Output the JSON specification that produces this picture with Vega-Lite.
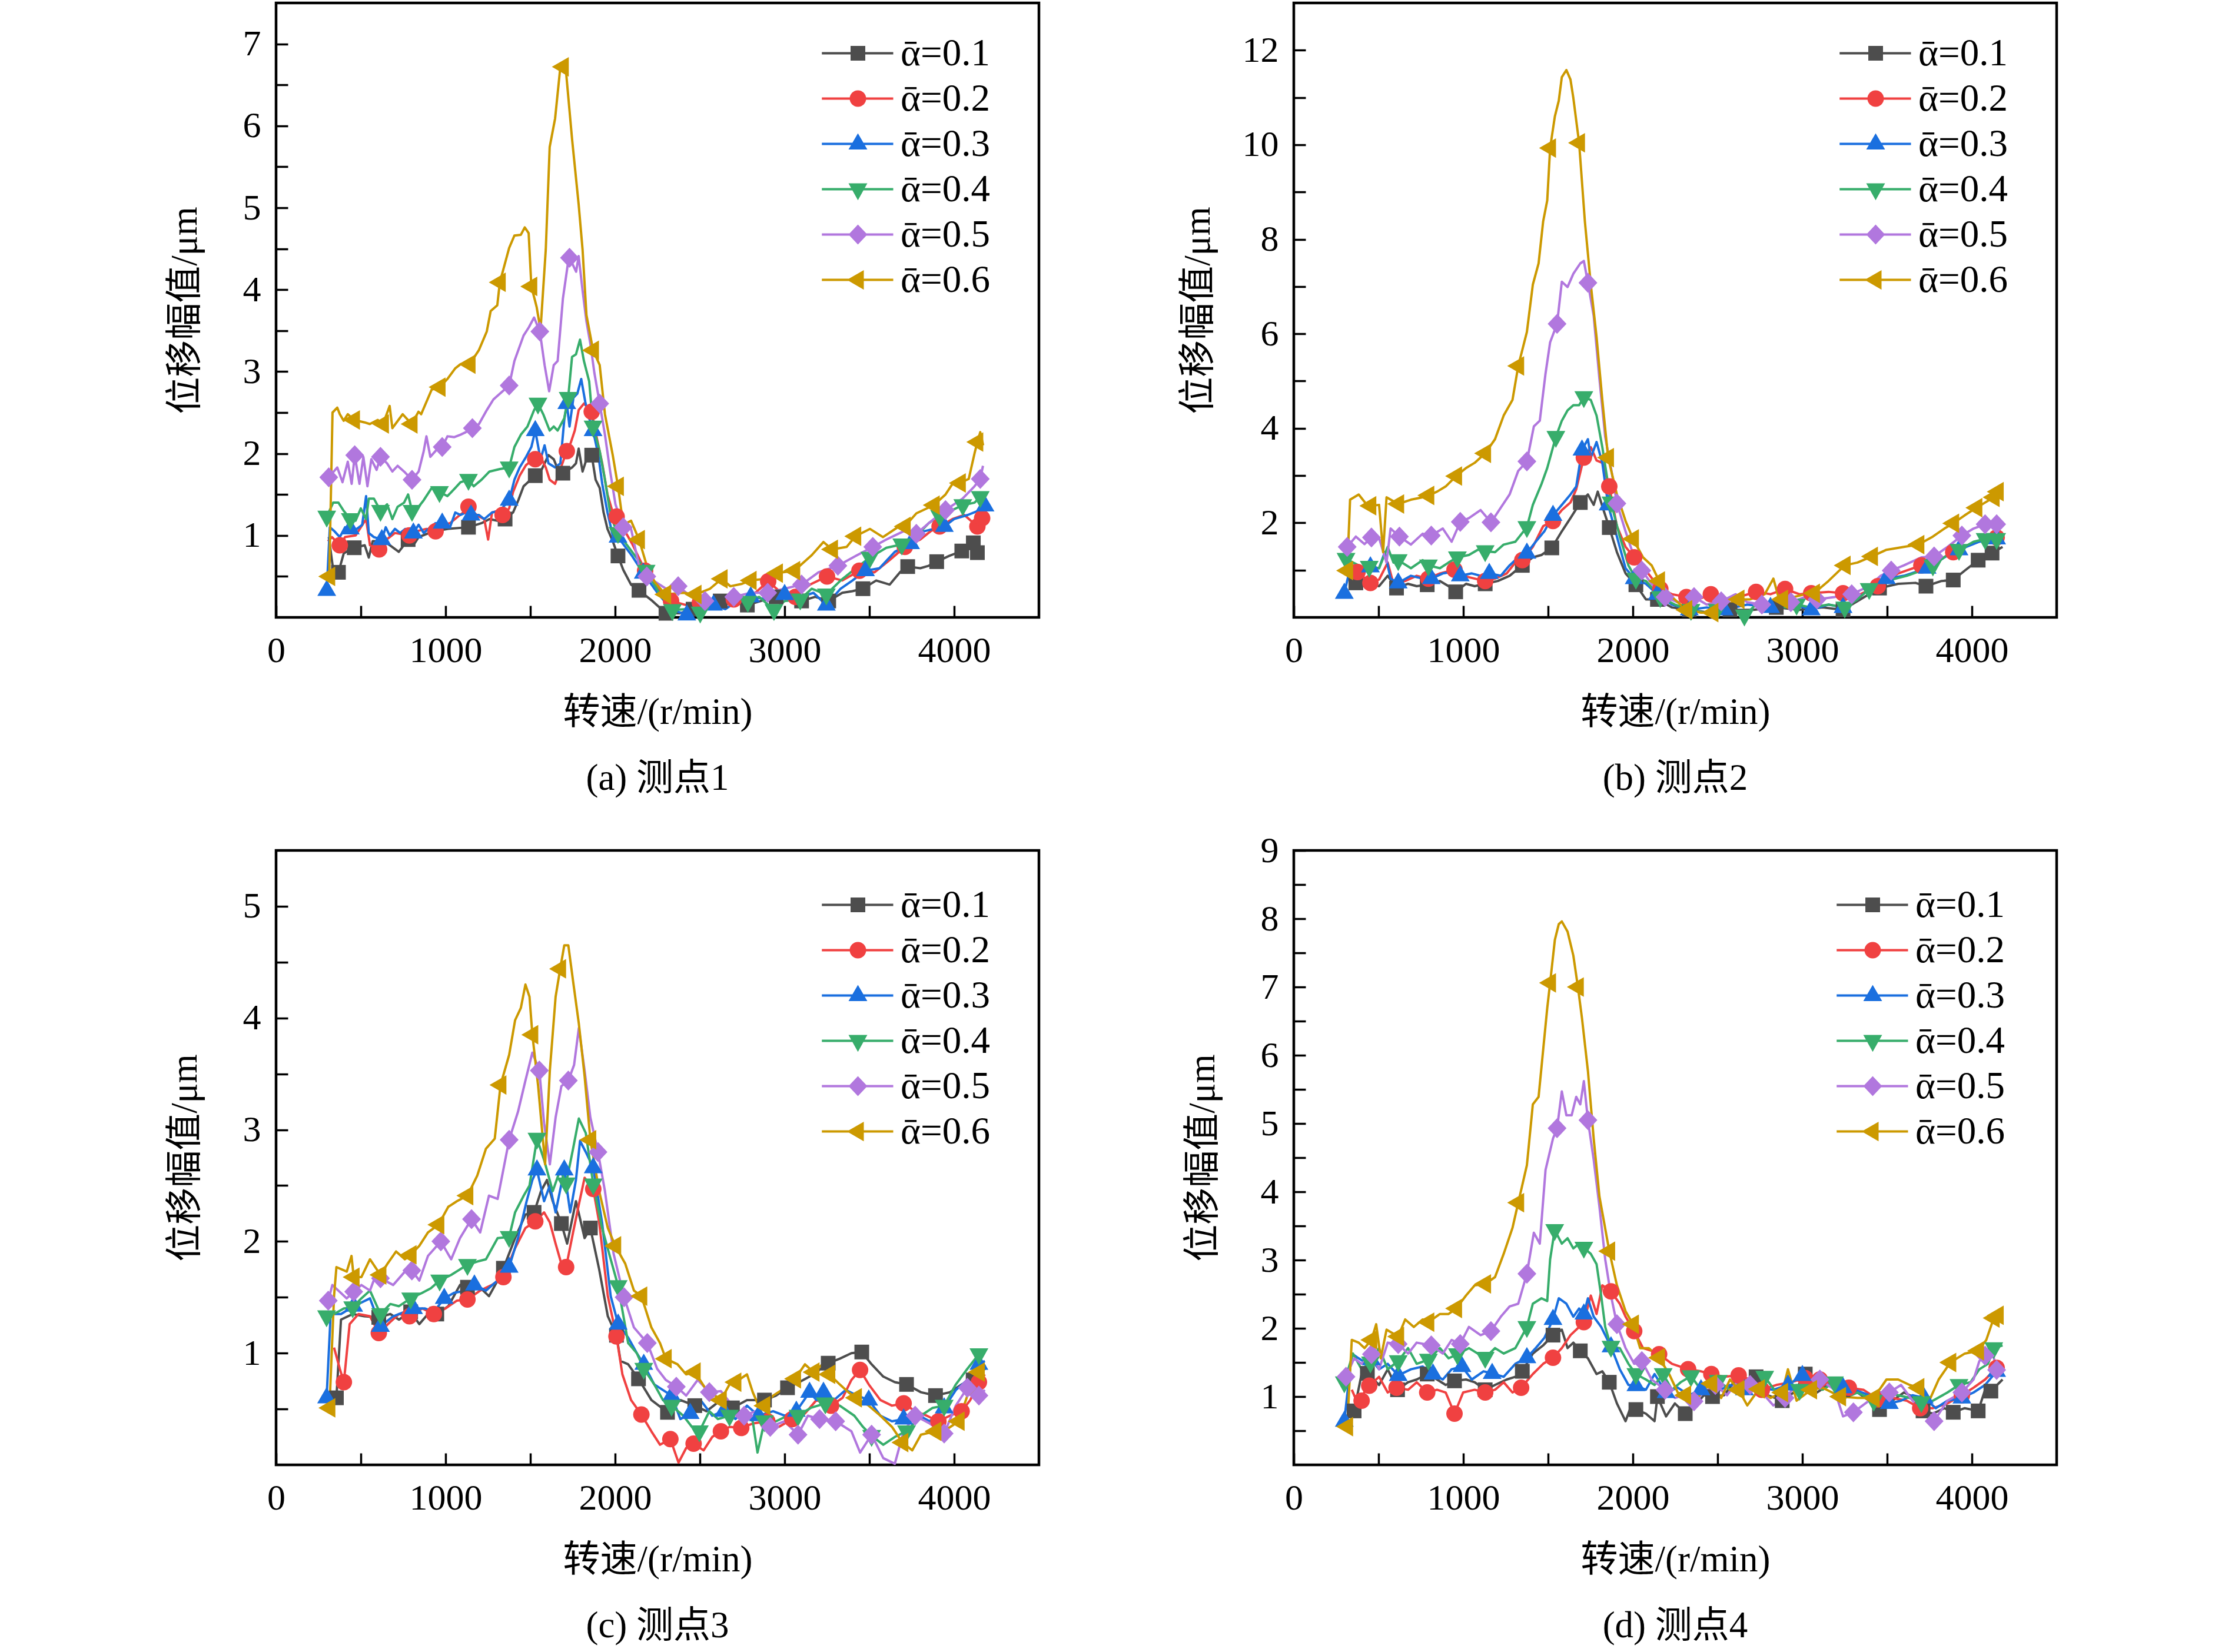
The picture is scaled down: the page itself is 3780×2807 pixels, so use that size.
{
"$schema": "https://vega.github.io/schema/vega-lite/v6.json",
"background": "white",
"padding": {"left": 280, "top": 2, "right": 10, "bottom": 10},
"config": {
  "view": {"stroke": "black", "strokeWidth": 4.5},
  "axis": {"grid": false, "domain": false, "tickColor": "black", "tickWidth": 3.5, "tickSize": -20, "labelFont": "Liberation Serif", "labelFontSize": 62, "labelColor": "black", "labelPadding": 46, "labelFlush": false, "labelOverlap": false, "titleFont": "Liberation Serif, Noto Sans CJK SC", "titleFontSize": 63, "titleFontWeight": "normal", "titleColor": "black"},
  "axisX": {"titlePadding": 43},
  "axisY": {"titlePadding": 66},
  "title": {"orient": "bottom", "font": "Liberation Serif, Noto Sans CJK SC", "fontSize": 63, "fontWeight": "normal", "color": "black", "offset": 50, "anchor": "middle"},
  "legend": {"labelFont": "Liberation Serif, DejaVu Serif", "labelFontSize": 65, "labelColor": "black", "labelOffset": 40, "rowPadding": 11, "symbolStrokeWidth": 0, "symbolSize": 625, "padding": 0, "labelLimit": 0}
},
"columns": 2,
"spacing": {"row": 53, "column": 233},
"resolve": {"scale": {"x": "independent", "y": "independent", "color": "independent", "shape": "independent"}, "legend": {"color": "independent", "shape": "independent"}},
"datasets": {
"a": [
{"s":"0.1","x":311,"y":0.98},{"s":"0.1","x":337,"y":0.58},{"s":"0.1","x":368,"y":0.55},{"s":"0.1","x":399,"y":0.78},{"s":"0.1","x":438,"y":0.83},{"s":"0.1","x":461,"y":0.85},{"s":"0.1","x":523,"y":0.88},{"s":"0.1","x":547,"y":0.73},{"s":"0.1","x":570,"y":0.93},{"s":"0.1","x":639,"y":0.93},{"s":"0.1","x":724,"y":0.8},{"s":"0.1","x":779,"y":0.95},{"s":"0.1","x":810,"y":0.88},{"s":"0.1","x":841,"y":0.98},{"s":"0.1","x":903,"y":1.03},{"s":"0.1","x":933,"y":1.05},{"s":"0.1","x":1011,"y":1.08},{"s":"0.1","x":1135,"y":1.1},{"s":"0.1","x":1212,"y":1.15},{"s":"0.1","x":1259,"y":1.2},{"s":"0.1","x":1305,"y":1.18},{"s":"0.1","x":1351,"y":1.2},{"s":"0.1","x":1398,"y":1.28},{"s":"0.1","x":1429,"y":1.43},{"s":"0.1","x":1460,"y":1.6},{"s":"0.1","x":1491,"y":1.66},{"s":"0.1","x":1529,"y":1.73},{"s":"0.1","x":1568,"y":1.81},{"s":"0.1","x":1607,"y":1.98},{"s":"0.1","x":1638,"y":1.93},{"s":"0.1","x":1677,"y":1.73},{"s":"0.1","x":1692,"y":1.76},{"s":"0.1","x":1746,"y":1.83},{"s":"0.1","x":1769,"y":1.88},{"s":"0.1","x":1785,"y":2.06},{"s":"0.1","x":1808,"y":1.78},{"s":"0.1","x":1839,"y":1.98},{"s":"0.1","x":1862,"y":1.98},{"s":"0.1","x":1885,"y":1.68},{"s":"0.1","x":1909,"y":1.58},{"s":"0.1","x":1932,"y":1.28},{"s":"0.1","x":1955,"y":1.08},{"s":"0.1","x":1986,"y":0.93},{"s":"0.1","x":2017,"y":0.75},{"s":"0.1","x":2048,"y":0.58},{"s":"0.1","x":2094,"y":0.4},{"s":"0.1","x":2141,"y":0.33},{"s":"0.1","x":2220,"y":0.2},{"s":"0.1","x":2300,"y":0.05},{"s":"0.1","x":2380,"y":0.05},{"s":"0.1","x":2460,"y":0.1},{"s":"0.1","x":2540,"y":0.12},{"s":"0.1","x":2620,"y":0.2},{"s":"0.1","x":2700,"y":0.25},{"s":"0.1","x":2780,"y":0.15},{"s":"0.1","x":2860,"y":0.2},{"s":"0.1","x":2950,"y":0.25},{"s":"0.1","x":3030,"y":0.22},{"s":"0.1","x":3100,"y":0.2},{"s":"0.1","x":3180,"y":0.25},{"s":"0.1","x":3260,"y":0.2},{"s":"0.1","x":3340,"y":0.3},{"s":"0.1","x":3400,"y":0.32},{"s":"0.1","x":3462,"y":0.35},{"s":"0.1","x":3540,"y":0.45},{"s":"0.1","x":3620,"y":0.4},{"s":"0.1","x":3680,"y":0.55},{"s":"0.1","x":3726,"y":0.62},{"s":"0.1","x":3800,"y":0.6},{"s":"0.1","x":3850,"y":0.63},{"s":"0.1","x":3897,"y":0.68},{"s":"0.1","x":3970,"y":0.75},{"s":"0.1","x":4045,"y":0.81},{"s":"0.1","x":4100,"y":0.88},{"s":"0.1","x":4113,"y":0.91},{"s":"0.1","x":4137,"y":0.79},{"s":"0.1","x":4160,"y":0.85},
{"s":"0.2","x":306,"y":0.93},{"s":"0.2","x":330,"y":0.98},{"s":"0.2","x":376,"y":0.88},{"s":"0.2","x":407,"y":0.98},{"s":"0.2","x":469,"y":1.0},{"s":"0.2","x":531,"y":1.2},{"s":"0.2","x":554,"y":0.88},{"s":"0.2","x":608,"y":0.83},{"s":"0.2","x":639,"y":0.93},{"s":"0.2","x":670,"y":0.98},{"s":"0.2","x":701,"y":1.03},{"s":"0.2","x":786,"y":1.0},{"s":"0.2","x":825,"y":1.05},{"s":"0.2","x":887,"y":1.08},{"s":"0.2","x":941,"y":1.05},{"s":"0.2","x":980,"y":1.13},{"s":"0.2","x":1026,"y":1.15},{"s":"0.2","x":1073,"y":1.23},{"s":"0.2","x":1104,"y":1.28},{"s":"0.2","x":1135,"y":1.35},{"s":"0.2","x":1166,"y":1.28},{"s":"0.2","x":1197,"y":1.23},{"s":"0.2","x":1228,"y":1.2},{"s":"0.2","x":1251,"y":0.95},{"s":"0.2","x":1274,"y":1.28},{"s":"0.2","x":1305,"y":1.3},{"s":"0.2","x":1336,"y":1.25},{"s":"0.2","x":1375,"y":1.33},{"s":"0.2","x":1398,"y":1.53},{"s":"0.2","x":1437,"y":1.73},{"s":"0.2","x":1475,"y":1.86},{"s":"0.2","x":1506,"y":1.91},{"s":"0.2","x":1529,"y":1.93},{"s":"0.2","x":1560,"y":1.96},{"s":"0.2","x":1591,"y":1.83},{"s":"0.2","x":1614,"y":1.68},{"s":"0.2","x":1646,"y":1.63},{"s":"0.2","x":1677,"y":1.81},{"s":"0.2","x":1715,"y":2.03},{"s":"0.2","x":1738,"y":2.13},{"s":"0.2","x":1762,"y":2.28},{"s":"0.2","x":1785,"y":2.53},{"s":"0.2","x":1816,"y":2.61},{"s":"0.2","x":1862,"y":2.51},{"s":"0.2","x":1893,"y":2.18},{"s":"0.2","x":1924,"y":1.88},{"s":"0.2","x":1955,"y":1.5},{"s":"0.2","x":1986,"y":1.28},{"s":"0.2","x":2009,"y":1.23},{"s":"0.2","x":2100,"y":0.9},{"s":"0.2","x":2177,"y":0.57},{"s":"0.2","x":2250,"y":0.35},{"s":"0.2","x":2330,"y":0.2},{"s":"0.2","x":2420,"y":0.15},{"s":"0.2","x":2500,"y":0.18},{"s":"0.2","x":2600,"y":0.15},{"s":"0.2","x":2700,"y":0.22},{"s":"0.2","x":2800,"y":0.25},{"s":"0.2","x":2903,"y":0.44},{"s":"0.2","x":2980,"y":0.3},{"s":"0.2","x":3064,"y":0.25},{"s":"0.2","x":3150,"y":0.4},{"s":"0.2","x":3250,"y":0.5},{"s":"0.2","x":3340,"y":0.45},{"s":"0.2","x":3441,"y":0.57},{"s":"0.2","x":3530,"y":0.55},{"s":"0.2","x":3620,"y":0.7},{"s":"0.2","x":3709,"y":0.86},{"s":"0.2","x":3800,"y":0.95},{"s":"0.2","x":3860,"y":1.05},{"s":"0.2","x":3914,"y":1.11},{"s":"0.2","x":3990,"y":1.2},{"s":"0.2","x":4060,"y":1.25},{"s":"0.2","x":4137,"y":1.11},{"s":"0.2","x":4165,"y":1.21},
{"s":"0.3","x":299,"y":0.33},{"s":"0.3","x":317,"y":1.1},{"s":"0.3","x":345,"y":1.05},{"s":"0.3","x":376,"y":0.98},{"s":"0.3","x":407,"y":1.1},{"s":"0.3","x":438,"y":1.08},{"s":"0.3","x":477,"y":1.08},{"s":"0.3","x":508,"y":1.13},{"s":"0.3","x":531,"y":1.48},{"s":"0.3","x":547,"y":1.03},{"s":"0.3","x":577,"y":0.98},{"s":"0.3","x":624,"y":0.95},{"s":"0.3","x":647,"y":1.1},{"s":"0.3","x":670,"y":1.0},{"s":"0.3","x":701,"y":1.08},{"s":"0.3","x":732,"y":1.03},{"s":"0.3","x":763,"y":1.08},{"s":"0.3","x":810,"y":1.03},{"s":"0.3","x":841,"y":1.13},{"s":"0.3","x":871,"y":1.03},{"s":"0.3","x":910,"y":1.1},{"s":"0.3","x":941,"y":1.15},{"s":"0.3","x":980,"y":1.15},{"s":"0.3","x":1026,"y":1.1},{"s":"0.3","x":1057,"y":1.28},{"s":"0.3","x":1088,"y":1.25},{"s":"0.3","x":1119,"y":1.28},{"s":"0.3","x":1150,"y":1.25},{"s":"0.3","x":1197,"y":1.25},{"s":"0.3","x":1228,"y":1.2},{"s":"0.3","x":1274,"y":1.28},{"s":"0.3","x":1320,"y":1.3},{"s":"0.3","x":1375,"y":1.43},{"s":"0.3","x":1406,"y":1.68},{"s":"0.3","x":1437,"y":1.83},{"s":"0.3","x":1475,"y":1.96},{"s":"0.3","x":1506,"y":2.08},{"s":"0.3","x":1529,"y":2.28},{"s":"0.3","x":1560,"y":1.93},{"s":"0.3","x":1584,"y":2.1},{"s":"0.3","x":1607,"y":1.88},{"s":"0.3","x":1646,"y":1.83},{"s":"0.3","x":1677,"y":1.88},{"s":"0.3","x":1700,"y":2.41},{"s":"0.3","x":1715,"y":2.61},{"s":"0.3","x":1731,"y":2.33},{"s":"0.3","x":1754,"y":2.68},{"s":"0.3","x":1777,"y":2.73},{"s":"0.3","x":1800,"y":2.91},{"s":"0.3","x":1824,"y":2.63},{"s":"0.3","x":1847,"y":2.43},{"s":"0.3","x":1870,"y":2.28},{"s":"0.3","x":1901,"y":1.98},{"s":"0.3","x":1924,"y":1.63},{"s":"0.3","x":1955,"y":1.28},{"s":"0.3","x":1986,"y":1.0},{"s":"0.3","x":2017,"y":0.98},{"s":"0.3","x":2100,"y":0.75},{"s":"0.3","x":2166,"y":0.54},{"s":"0.3","x":2250,"y":0.3},{"s":"0.3","x":2330,"y":0.1},{"s":"0.3","x":2423,"y":0.03},{"s":"0.3","x":2500,"y":0.08},{"s":"0.3","x":2580,"y":0.15},{"s":"0.3","x":2650,"y":0.1},{"s":"0.3","x":2720,"y":0.2},{"s":"0.3","x":2800,"y":0.25},{"s":"0.3","x":2900,"y":0.22},{"s":"0.3","x":3000,"y":0.28},{"s":"0.3","x":3100,"y":0.25},{"s":"0.3","x":3170,"y":0.3},{"s":"0.3","x":3246,"y":0.15},{"s":"0.3","x":3330,"y":0.35},{"s":"0.3","x":3400,"y":0.45},{"s":"0.3","x":3477,"y":0.57},{"s":"0.3","x":3560,"y":0.6},{"s":"0.3","x":3650,"y":0.8},{"s":"0.3","x":3743,"y":0.9},{"s":"0.3","x":3820,"y":1.05},{"s":"0.3","x":3880,"y":1.08},{"s":"0.3","x":3942,"y":1.11},{"s":"0.3","x":4000,"y":1.2},{"s":"0.3","x":4080,"y":1.25},{"s":"0.3","x":4140,"y":1.3},{"s":"0.3","x":4182,"y":1.36},
{"s":"0.4","x":299,"y":1.23},{"s":"0.4","x":337,"y":1.4},{"s":"0.4","x":368,"y":1.4},{"s":"0.4","x":399,"y":1.3},{"s":"0.4","x":438,"y":1.2},{"s":"0.4","x":469,"y":1.18},{"s":"0.4","x":500,"y":1.33},{"s":"0.4","x":531,"y":1.2},{"s":"0.4","x":547,"y":1.45},{"s":"0.4","x":577,"y":1.45},{"s":"0.4","x":616,"y":1.3},{"s":"0.4","x":655,"y":1.38},{"s":"0.4","x":686,"y":1.2},{"s":"0.4","x":717,"y":1.35},{"s":"0.4","x":755,"y":1.4},{"s":"0.4","x":779,"y":1.5},{"s":"0.4","x":802,"y":1.3},{"s":"0.4","x":841,"y":1.35},{"s":"0.4","x":871,"y":1.43},{"s":"0.4","x":918,"y":1.58},{"s":"0.4","x":964,"y":1.53},{"s":"0.4","x":1011,"y":1.48},{"s":"0.4","x":1057,"y":1.58},{"s":"0.4","x":1088,"y":1.65},{"s":"0.4","x":1135,"y":1.68},{"s":"0.4","x":1166,"y":1.6},{"s":"0.4","x":1212,"y":1.68},{"s":"0.4","x":1259,"y":1.78},{"s":"0.4","x":1320,"y":1.81},{"s":"0.4","x":1375,"y":1.83},{"s":"0.4","x":1406,"y":2.08},{"s":"0.4","x":1444,"y":2.23},{"s":"0.4","x":1483,"y":2.33},{"s":"0.4","x":1522,"y":2.53},{"s":"0.4","x":1545,"y":2.61},{"s":"0.4","x":1576,"y":2.48},{"s":"0.4","x":1614,"y":2.28},{"s":"0.4","x":1638,"y":2.33},{"s":"0.4","x":1661,"y":2.28},{"s":"0.4","x":1700,"y":2.43},{"s":"0.4","x":1723,"y":2.68},{"s":"0.4","x":1746,"y":3.18},{"s":"0.4","x":1769,"y":3.21},{"s":"0.4","x":1793,"y":3.39},{"s":"0.4","x":1816,"y":3.13},{"s":"0.4","x":1847,"y":2.88},{"s":"0.4","x":1870,"y":2.33},{"s":"0.4","x":1909,"y":2.03},{"s":"0.4","x":1940,"y":1.68},{"s":"0.4","x":1971,"y":1.28},{"s":"0.4","x":1994,"y":1.13},{"s":"0.4","x":2017,"y":1.03},{"s":"0.4","x":2100,"y":0.8},{"s":"0.4","x":2183,"y":0.57},{"s":"0.4","x":2260,"y":0.3},{"s":"0.4","x":2338,"y":0.09},{"s":"0.4","x":2420,"y":0.1},{"s":"0.4","x":2502,"y":0.06},{"s":"0.4","x":2560,"y":0.15},{"s":"0.4","x":2640,"y":0.2},{"s":"0.4","x":2700,"y":0.15},{"s":"0.4","x":2783,"y":0.19},{"s":"0.4","x":2850,"y":0.25},{"s":"0.4","x":2937,"y":0.09},{"s":"0.4","x":3000,"y":0.2},{"s":"0.4","x":3092,"y":0.22},{"s":"0.4","x":3160,"y":0.35},{"s":"0.4","x":3246,"y":0.28},{"s":"0.4","x":3330,"y":0.45},{"s":"0.4","x":3420,"y":0.6},{"s":"0.4","x":3503,"y":0.73},{"s":"0.4","x":3600,"y":0.85},{"s":"0.4","x":3691,"y":0.89},{"s":"0.4","x":3780,"y":1.0},{"s":"0.4","x":3850,"y":1.15},{"s":"0.4","x":3914,"y":1.24},{"s":"0.4","x":3980,"y":1.3},{"s":"0.4","x":4051,"y":1.37},{"s":"0.4","x":4120,"y":1.4},{"s":"0.4","x":4154,"y":1.47},{"s":"0.4","x":4170,"y":1.5},
{"s":"0.5","x":311,"y":1.71},{"s":"0.5","x":361,"y":1.83},{"s":"0.5","x":392,"y":1.65},{"s":"0.5","x":423,"y":1.9},{"s":"0.5","x":446,"y":1.63},{"s":"0.5","x":464,"y":1.98},{"s":"0.5","x":492,"y":1.63},{"s":"0.5","x":515,"y":1.96},{"s":"0.5","x":539,"y":1.6},{"s":"0.5","x":562,"y":1.93},{"s":"0.5","x":593,"y":1.8},{"s":"0.5","x":616,"y":1.96},{"s":"0.5","x":655,"y":1.88},{"s":"0.5","x":686,"y":1.78},{"s":"0.5","x":717,"y":1.85},{"s":"0.5","x":755,"y":1.78},{"s":"0.5","x":802,"y":1.68},{"s":"0.5","x":841,"y":1.78},{"s":"0.5","x":871,"y":2.03},{"s":"0.5","x":887,"y":2.21},{"s":"0.5","x":910,"y":1.96},{"s":"0.5","x":949,"y":2.05},{"s":"0.5","x":980,"y":2.08},{"s":"0.5","x":1011,"y":2.21},{"s":"0.5","x":1050,"y":2.2},{"s":"0.5","x":1088,"y":2.23},{"s":"0.5","x":1119,"y":2.26},{"s":"0.5","x":1158,"y":2.31},{"s":"0.5","x":1197,"y":2.36},{"s":"0.5","x":1243,"y":2.53},{"s":"0.5","x":1282,"y":2.66},{"s":"0.5","x":1320,"y":2.73},{"s":"0.5","x":1375,"y":2.83},{"s":"0.5","x":1406,"y":3.13},{"s":"0.5","x":1460,"y":3.44},{"s":"0.5","x":1491,"y":3.54},{"s":"0.5","x":1522,"y":3.66},{"s":"0.5","x":1556,"y":3.49},{"s":"0.5","x":1584,"y":3.08},{"s":"0.5","x":1611,"y":2.76},{"s":"0.5","x":1638,"y":3.08},{"s":"0.5","x":1661,"y":3.13},{"s":"0.5","x":1692,"y":3.89},{"s":"0.5","x":1723,"y":4.34},{"s":"0.5","x":1731,"y":4.39},{"s":"0.5","x":1754,"y":4.29},{"s":"0.5","x":1770,"y":4.22},{"s":"0.5","x":1785,"y":4.41},{"s":"0.5","x":1808,"y":3.99},{"s":"0.5","x":1831,"y":3.61},{"s":"0.5","x":1854,"y":3.34},{"s":"0.5","x":1878,"y":2.98},{"s":"0.5","x":1909,"y":2.61},{"s":"0.5","x":1940,"y":2.23},{"s":"0.5","x":1971,"y":1.78},{"s":"0.5","x":2002,"y":1.38},{"s":"0.5","x":2048,"y":1.1},{"s":"0.5","x":2094,"y":1.08},{"s":"0.5","x":2141,"y":0.63},{"s":"0.5","x":2187,"y":0.5},{"s":"0.5","x":2300,"y":0.35},{"s":"0.5","x":2372,"y":0.38},{"s":"0.5","x":2450,"y":0.25},{"s":"0.5","x":2530,"y":0.2},{"s":"0.5","x":2629,"y":0.2},{"s":"0.5","x":2700,"y":0.25},{"s":"0.5","x":2800,"y":0.3},{"s":"0.5","x":2900,"y":0.3},{"s":"0.5","x":3000,"y":0.35},{"s":"0.5","x":3100,"y":0.4},{"s":"0.5","x":3200,"y":0.55},{"s":"0.5","x":3314,"y":0.63},{"s":"0.5","x":3420,"y":0.75},{"s":"0.5","x":3520,"y":0.86},{"s":"0.5","x":3600,"y":0.95},{"s":"0.5","x":3700,"y":1.05},{"s":"0.5","x":3777,"y":1.02},{"s":"0.5","x":3850,"y":1.15},{"s":"0.5","x":3949,"y":1.31},{"s":"0.5","x":4050,"y":1.45},{"s":"0.5","x":4120,"y":1.6},{"s":"0.5","x":4154,"y":1.69},{"s":"0.5","x":4170,"y":1.85},
{"s":"0.6","x":314,"y":0.5},{"s":"0.6","x":333,"y":2.5},{"s":"0.6","x":361,"y":2.56},{"s":"0.6","x":376,"y":2.48},{"s":"0.6","x":399,"y":2.4},{"s":"0.6","x":423,"y":2.48},{"s":"0.6","x":460,"y":2.41},{"s":"0.6","x":522,"y":2.38},{"s":"0.6","x":553,"y":2.36},{"s":"0.6","x":600,"y":2.41},{"s":"0.6","x":631,"y":2.36},{"s":"0.6","x":670,"y":2.58},{"s":"0.6","x":686,"y":2.31},{"s":"0.6","x":747,"y":2.48},{"s":"0.6","x":800,"y":2.36},{"s":"0.6","x":840,"y":2.51},{"s":"0.6","x":856,"y":2.48},{"s":"0.6","x":918,"y":2.78},{"s":"0.6","x":965,"y":2.81},{"s":"0.6","x":1011,"y":2.91},{"s":"0.6","x":1057,"y":3.04},{"s":"0.6","x":1088,"y":3.09},{"s":"0.6","x":1142,"y":3.09},{"s":"0.6","x":1196,"y":3.26},{"s":"0.6","x":1243,"y":3.49},{"s":"0.6","x":1266,"y":3.74},{"s":"0.6","x":1305,"y":3.81},{"s":"0.6","x":1320,"y":4.09},{"s":"0.6","x":1375,"y":4.51},{"s":"0.6","x":1406,"y":4.66},{"s":"0.6","x":1444,"y":4.67},{"s":"0.6","x":1467,"y":4.76},{"s":"0.6","x":1490,"y":4.69},{"s":"0.6","x":1506,"y":4.04},{"s":"0.6","x":1537,"y":3.79},{"s":"0.6","x":1560,"y":3.51},{"s":"0.6","x":1591,"y":4.49},{"s":"0.6","x":1614,"y":5.74},{"s":"0.6","x":1646,"y":6.09},{"s":"0.6","x":1676,"y":6.7},{"s":"0.6","x":1692,"y":6.72},{"s":"0.6","x":1707,"y":6.74},{"s":"0.6","x":1746,"y":5.84},{"s":"0.6","x":1785,"y":5.04},{"s":"0.6","x":1808,"y":4.49},{"s":"0.6","x":1831,"y":3.69},{"s":"0.6","x":1870,"y":3.26},{"s":"0.6","x":1909,"y":3.08},{"s":"0.6","x":1940,"y":2.48},{"s":"0.6","x":1986,"y":1.98},{"s":"0.6","x":2017,"y":1.6},{"s":"0.6","x":2048,"y":1.13},{"s":"0.6","x":2094,"y":1.18},{"s":"0.6","x":2141,"y":0.95},{"s":"0.6","x":2187,"y":0.63},{"s":"0.6","x":2234,"y":0.43},{"s":"0.6","x":2296,"y":0.28},{"s":"0.6","x":2400,"y":0.3},{"s":"0.6","x":2475,"y":0.28},{"s":"0.6","x":2560,"y":0.35},{"s":"0.6","x":2629,"y":0.47},{"s":"0.6","x":2680,"y":0.38},{"s":"0.6","x":2749,"y":0.41},{"s":"0.6","x":2800,"y":0.45},{"s":"0.6","x":2886,"y":0.47},{"s":"0.6","x":2955,"y":0.54},{"s":"0.6","x":3057,"y":0.57},{"s":"0.6","x":3160,"y":0.76},{"s":"0.6","x":3229,"y":0.92},{"s":"0.6","x":3280,"y":0.83},{"s":"0.6","x":3366,"y":0.86},{"s":"0.6","x":3417,"y":0.99},{"s":"0.6","x":3503,"y":1.08},{"s":"0.6","x":3580,"y":0.98},{"s":"0.6","x":3674,"y":1.11},{"s":"0.6","x":3709,"y":1.11},{"s":"0.6","x":3777,"y":1.27},{"s":"0.6","x":3880,"y":1.37},{"s":"0.6","x":3949,"y":1.5},{"s":"0.6","x":4000,"y":1.66},{"s":"0.6","x":4034,"y":1.64},{"s":"0.6","x":4086,"y":1.69},{"s":"0.6","x":4120,"y":2.0},{"s":"0.6","x":4137,"y":2.14},{"s":"0.6","x":4154,"y":2.26},{"s":"0.6","x":4171,"y":2.1}
],
"am": [
{"s":"0.1","x":368,"y":0.55},{"s":"0.1","x":461,"y":0.85},{"s":"0.1","x":779,"y":0.95},{"s":"0.1","x":1135,"y":1.1},{"s":"0.1","x":1351,"y":1.2},{"s":"0.1","x":1529,"y":1.73},{"s":"0.1","x":1692,"y":1.76},{"s":"0.1","x":1862,"y":1.98},{"s":"0.1","x":2017,"y":0.75},{"s":"0.1","x":2141,"y":0.33},{"s":"0.1","x":2300,"y":0.05},{"s":"0.1","x":2460,"y":0.1},{"s":"0.1","x":2620,"y":0.2},{"s":"0.1","x":2780,"y":0.15},{"s":"0.1","x":2950,"y":0.25},{"s":"0.1","x":3100,"y":0.2},{"s":"0.1","x":3260,"y":0.2},{"s":"0.1","x":3462,"y":0.35},{"s":"0.1","x":3726,"y":0.62},{"s":"0.1","x":3897,"y":0.68},{"s":"0.1","x":4045,"y":0.81},{"s":"0.1","x":4113,"y":0.91},{"s":"0.1","x":4137,"y":0.79},
{"s":"0.2","x":376,"y":0.88},{"s":"0.2","x":608,"y":0.83},{"s":"0.2","x":786,"y":1.0},{"s":"0.2","x":941,"y":1.05},{"s":"0.2","x":1135,"y":1.35},{"s":"0.2","x":1336,"y":1.25},{"s":"0.2","x":1529,"y":1.93},{"s":"0.2","x":1715,"y":2.03},{"s":"0.2","x":1862,"y":2.51},{"s":"0.2","x":2009,"y":1.23},{"s":"0.2","x":2177,"y":0.57},{"s":"0.2","x":2330,"y":0.2},{"s":"0.2","x":2500,"y":0.18},{"s":"0.2","x":2700,"y":0.22},{"s":"0.2","x":2903,"y":0.44},{"s":"0.2","x":3064,"y":0.25},{"s":"0.2","x":3250,"y":0.5},{"s":"0.2","x":3441,"y":0.57},{"s":"0.2","x":3709,"y":0.86},{"s":"0.2","x":3914,"y":1.11},{"s":"0.2","x":4137,"y":1.11},{"s":"0.2","x":4165,"y":1.21},
{"s":"0.3","x":299,"y":0.33},{"s":"0.3","x":438,"y":1.08},{"s":"0.3","x":624,"y":0.95},{"s":"0.3","x":810,"y":1.03},{"s":"0.3","x":980,"y":1.15},{"s":"0.3","x":1150,"y":1.25},{"s":"0.3","x":1375,"y":1.43},{"s":"0.3","x":1529,"y":2.28},{"s":"0.3","x":1715,"y":2.61},{"s":"0.3","x":1870,"y":2.28},{"s":"0.3","x":2017,"y":0.98},{"s":"0.3","x":2166,"y":0.54},{"s":"0.3","x":2423,"y":0.03},{"s":"0.3","x":2580,"y":0.15},{"s":"0.3","x":2800,"y":0.25},{"s":"0.3","x":3000,"y":0.28},{"s":"0.3","x":3246,"y":0.15},{"s":"0.3","x":3477,"y":0.57},{"s":"0.3","x":3743,"y":0.9},{"s":"0.3","x":3942,"y":1.11},{"s":"0.3","x":4182,"y":1.36},
{"s":"0.4","x":299,"y":1.23},{"s":"0.4","x":438,"y":1.2},{"s":"0.4","x":616,"y":1.3},{"s":"0.4","x":802,"y":1.3},{"s":"0.4","x":964,"y":1.53},{"s":"0.4","x":1135,"y":1.68},{"s":"0.4","x":1375,"y":1.83},{"s":"0.4","x":1545,"y":2.61},{"s":"0.4","x":1723,"y":2.68},{"s":"0.4","x":1870,"y":2.33},{"s":"0.4","x":2017,"y":1.03},{"s":"0.4","x":2183,"y":0.57},{"s":"0.4","x":2338,"y":0.09},{"s":"0.4","x":2502,"y":0.06},{"s":"0.4","x":2783,"y":0.19},{"s":"0.4","x":2937,"y":0.09},{"s":"0.4","x":3092,"y":0.22},{"s":"0.4","x":3246,"y":0.28},{"s":"0.4","x":3503,"y":0.73},{"s":"0.4","x":3691,"y":0.89},{"s":"0.4","x":3914,"y":1.24},{"s":"0.4","x":4051,"y":1.37},{"s":"0.4","x":4154,"y":1.47},
{"s":"0.5","x":311,"y":1.71},{"s":"0.5","x":464,"y":1.98},{"s":"0.5","x":616,"y":1.96},{"s":"0.5","x":802,"y":1.68},{"s":"0.5","x":980,"y":2.08},{"s":"0.5","x":1158,"y":2.31},{"s":"0.5","x":1375,"y":2.83},{"s":"0.5","x":1556,"y":3.49},{"s":"0.5","x":1731,"y":4.39},{"s":"0.5","x":1909,"y":2.61},{"s":"0.5","x":2048,"y":1.1},{"s":"0.5","x":2187,"y":0.5},{"s":"0.5","x":2372,"y":0.38},{"s":"0.5","x":2530,"y":0.2},{"s":"0.5","x":2700,"y":0.25},{"s":"0.5","x":2900,"y":0.3},{"s":"0.5","x":3100,"y":0.4},{"s":"0.5","x":3314,"y":0.63},{"s":"0.5","x":3520,"y":0.86},{"s":"0.5","x":3777,"y":1.02},{"s":"0.5","x":3949,"y":1.31},{"s":"0.5","x":4154,"y":1.69},
{"s":"0.6","x":314,"y":0.5},{"s":"0.6","x":460,"y":2.41},{"s":"0.6","x":631,"y":2.36},{"s":"0.6","x":800,"y":2.36},{"s":"0.6","x":965,"y":2.81},{"s":"0.6","x":1142,"y":3.09},{"s":"0.6","x":1320,"y":4.09},{"s":"0.6","x":1506,"y":4.04},{"s":"0.6","x":1692,"y":6.72},{"s":"0.6","x":1870,"y":3.26},{"s":"0.6","x":2017,"y":1.6},{"s":"0.6","x":2141,"y":0.95},{"s":"0.6","x":2296,"y":0.28},{"s":"0.6","x":2475,"y":0.28},{"s":"0.6","x":2629,"y":0.47},{"s":"0.6","x":2800,"y":0.45},{"s":"0.6","x":2955,"y":0.54},{"s":"0.6","x":3057,"y":0.57},{"s":"0.6","x":3280,"y":0.83},{"s":"0.6","x":3417,"y":0.99},{"s":"0.6","x":3709,"y":1.11},{"s":"0.6","x":3880,"y":1.37},{"s":"0.6","x":4034,"y":1.64},{"s":"0.6","x":4137,"y":2.14}
],
"b": [
{"s":"0.1","x":342,"y":0.82},{"s":"0.1","x":366,"y":0.73},{"s":"0.1","x":434,"y":0.73},{"s":"0.1","x":503,"y":0.66},{"s":"0.1","x":554,"y":0.88},{"s":"0.1","x":606,"y":0.62},{"s":"0.1","x":674,"y":0.71},{"s":"0.1","x":725,"y":0.66},{"s":"0.1","x":787,"y":0.69},{"s":"0.1","x":862,"y":0.77},{"s":"0.1","x":913,"y":0.66},{"s":"0.1","x":955,"y":0.54},{"s":"0.1","x":1016,"y":0.71},{"s":"0.1","x":1067,"y":0.66},{"s":"0.1","x":1129,"y":0.71},{"s":"0.1","x":1204,"y":0.77},{"s":"0.1","x":1273,"y":0.88},{"s":"0.1","x":1348,"y":1.1},{"s":"0.1","x":1410,"y":1.27},{"s":"0.1","x":1461,"y":1.32},{"s":"0.1","x":1522,"y":1.47},{"s":"0.1","x":1581,"y":1.82},{"s":"0.1","x":1632,"y":2.1},{"s":"0.1","x":1690,"y":2.43},{"s":"0.1","x":1735,"y":2.6},{"s":"0.1","x":1769,"y":2.38},{"s":"0.1","x":1793,"y":2.66},{"s":"0.1","x":1827,"y":2.27},{"s":"0.1","x":1861,"y":1.9},{"s":"0.1","x":1906,"y":1.38},{"s":"0.1","x":1957,"y":0.93},{"s":"0.1","x":2018,"y":0.69},{"s":"0.1","x":2077,"y":0.38},{"s":"0.1","x":2145,"y":0.38},{"s":"0.1","x":2231,"y":0.21},{"s":"0.1","x":2333,"y":0.16},{"s":"0.1","x":2453,"y":0.1},{"s":"0.1","x":2573,"y":0.16},{"s":"0.1","x":2710,"y":0.16},{"s":"0.1","x":2846,"y":0.21},{"s":"0.1","x":2983,"y":0.16},{"s":"0.1","x":3120,"y":0.21},{"s":"0.1","x":3240,"y":0.16},{"s":"0.1","x":3342,"y":0.38},{"s":"0.1","x":3455,"y":0.62},{"s":"0.1","x":3565,"y":0.71},{"s":"0.1","x":3667,"y":0.73},{"s":"0.1","x":3729,"y":0.66},{"s":"0.1","x":3821,"y":0.77},{"s":"0.1","x":3890,"y":0.79},{"s":"0.1","x":3958,"y":0.99},{"s":"0.1","x":4037,"y":1.21},{"s":"0.1","x":4119,"y":1.36},{"s":"0.1","x":4181,"y":1.49},
{"s":"0.2","x":298,"y":0.93},{"s":"0.2","x":349,"y":1.1},{"s":"0.2","x":376,"y":0.96},{"s":"0.2","x":452,"y":0.73},{"s":"0.2","x":503,"y":0.8},{"s":"0.2","x":554,"y":1.16},{"s":"0.2","x":588,"y":0.71},{"s":"0.2","x":657,"y":0.77},{"s":"0.2","x":725,"y":0.88},{"s":"0.2","x":794,"y":0.82},{"s":"0.2","x":862,"y":0.93},{"s":"0.2","x":948,"y":1.01},{"s":"0.2","x":999,"y":0.88},{"s":"0.2","x":1067,"y":0.82},{"s":"0.2","x":1129,"y":0.77},{"s":"0.2","x":1187,"y":0.82},{"s":"0.2","x":1256,"y":0.93},{"s":"0.2","x":1307,"y":1.16},{"s":"0.2","x":1348,"y":1.21},{"s":"0.2","x":1410,"y":1.49},{"s":"0.2","x":1471,"y":1.93},{"s":"0.2","x":1529,"y":2.04},{"s":"0.2","x":1581,"y":2.27},{"s":"0.2","x":1632,"y":2.43},{"s":"0.2","x":1666,"y":2.71},{"s":"0.2","x":1711,"y":3.38},{"s":"0.2","x":1752,"y":3.6},{"s":"0.2","x":1786,"y":3.32},{"s":"0.2","x":1820,"y":3.27},{"s":"0.2","x":1861,"y":2.77},{"s":"0.2","x":1906,"y":1.93},{"s":"0.2","x":1957,"y":1.49},{"s":"0.2","x":2008,"y":1.27},{"s":"0.2","x":2077,"y":0.99},{"s":"0.2","x":2162,"y":0.6},{"s":"0.2","x":2231,"y":0.49},{"s":"0.2","x":2316,"y":0.43},{"s":"0.2","x":2385,"y":0.38},{"s":"0.2","x":2460,"y":0.49},{"s":"0.2","x":2539,"y":0.38},{"s":"0.2","x":2624,"y":0.43},{"s":"0.2","x":2727,"y":0.54},{"s":"0.2","x":2812,"y":0.49},{"s":"0.2","x":2898,"y":0.6},{"s":"0.2","x":2983,"y":0.49},{"s":"0.2","x":3052,"y":0.51},{"s":"0.2","x":3154,"y":0.54},{"s":"0.2","x":3240,"y":0.51},{"s":"0.2","x":3342,"y":0.49},{"s":"0.2","x":3445,"y":0.66},{"s":"0.2","x":3565,"y":0.93},{"s":"0.2","x":3702,"y":1.1},{"s":"0.2","x":3804,"y":1.21},{"s":"0.2","x":3890,"y":1.38},{"s":"0.2","x":4027,"y":1.6},{"s":"0.2","x":4146,"y":1.69},{"s":"0.2","x":4181,"y":1.66},
{"s":"0.3","x":298,"y":0.51},{"s":"0.3","x":332,"y":1.04},{"s":"0.3","x":383,"y":0.93},{"s":"0.3","x":452,"y":1.07},{"s":"0.3","x":503,"y":1.04},{"s":"0.3","x":537,"y":1.38},{"s":"0.3","x":571,"y":0.82},{"s":"0.3","x":616,"y":0.73},{"s":"0.3","x":691,"y":0.88},{"s":"0.3","x":760,"y":0.82},{"s":"0.3","x":811,"y":0.82},{"s":"0.3","x":879,"y":0.93},{"s":"0.3","x":931,"y":0.96},{"s":"0.3","x":982,"y":0.88},{"s":"0.3","x":1050,"y":0.93},{"s":"0.3","x":1102,"y":0.88},{"s":"0.3","x":1153,"y":0.93},{"s":"0.3","x":1221,"y":0.88},{"s":"0.3","x":1273,"y":1.1},{"s":"0.3","x":1324,"y":1.27},{"s":"0.3","x":1375,"y":1.36},{"s":"0.3","x":1427,"y":1.6},{"s":"0.3","x":1478,"y":1.82},{"s":"0.3","x":1529,"y":2.16},{"s":"0.3","x":1581,"y":2.38},{"s":"0.3","x":1632,"y":2.6},{"s":"0.3","x":1666,"y":2.77},{"s":"0.3","x":1700,"y":3.54},{"s":"0.3","x":1735,"y":3.77},{"s":"0.3","x":1752,"y":3.38},{"s":"0.3","x":1786,"y":3.71},{"s":"0.3","x":1820,"y":3.27},{"s":"0.3","x":1854,"y":2.38},{"s":"0.3","x":1906,"y":1.71},{"s":"0.3","x":1957,"y":1.04},{"s":"0.3","x":2008,"y":0.82},{"s":"0.3","x":2077,"y":0.71},{"s":"0.3","x":2145,"y":0.49},{"s":"0.3","x":2231,"y":0.27},{"s":"0.3","x":2333,"y":0.16},{"s":"0.3","x":2436,"y":0.21},{"s":"0.3","x":2539,"y":0.16},{"s":"0.3","x":2675,"y":0.27},{"s":"0.3","x":2812,"y":0.21},{"s":"0.3","x":2949,"y":0.27},{"s":"0.3","x":3052,"y":0.16},{"s":"0.3","x":3154,"y":0.27},{"s":"0.3","x":3240,"y":0.21},{"s":"0.3","x":3325,"y":0.38},{"s":"0.3","x":3411,"y":0.66},{"s":"0.3","x":3496,"y":0.82},{"s":"0.3","x":3599,"y":0.88},{"s":"0.3","x":3736,"y":1.04},{"s":"0.3","x":3838,"y":1.27},{"s":"0.3","x":3924,"y":1.43},{"s":"0.3","x":4044,"y":1.6},{"s":"0.3","x":4146,"y":1.66},{"s":"0.3","x":4181,"y":1.6},
{"s":"0.4","x":308,"y":1.24},{"s":"0.4","x":349,"y":1.16},{"s":"0.4","x":400,"y":1.07},{"s":"0.4","x":445,"y":1.07},{"s":"0.4","x":503,"y":1.04},{"s":"0.4","x":554,"y":1.49},{"s":"0.4","x":588,"y":1.16},{"s":"0.4","x":616,"y":1.21},{"s":"0.4","x":691,"y":1.04},{"s":"0.4","x":760,"y":1.21},{"s":"0.4","x":794,"y":1.1},{"s":"0.4","x":862,"y":1.04},{"s":"0.4","x":913,"y":1.16},{"s":"0.4","x":965,"y":1.27},{"s":"0.4","x":1033,"y":1.32},{"s":"0.4","x":1085,"y":1.43},{"s":"0.4","x":1129,"y":1.4},{"s":"0.4","x":1187,"y":1.38},{"s":"0.4","x":1238,"y":1.54},{"s":"0.4","x":1307,"y":1.6},{"s":"0.4","x":1375,"y":1.91},{"s":"0.4","x":1410,"y":2.38},{"s":"0.4","x":1461,"y":2.82},{"s":"0.4","x":1495,"y":3.16},{"s":"0.4","x":1546,"y":3.82},{"s":"0.4","x":1581,"y":4.16},{"s":"0.4","x":1615,"y":4.38},{"s":"0.4","x":1649,"y":4.49},{"s":"0.4","x":1683,"y":4.49},{"s":"0.4","x":1711,"y":4.66},{"s":"0.4","x":1752,"y":4.6},{"s":"0.4","x":1786,"y":4.27},{"s":"0.4","x":1820,"y":3.6},{"s":"0.4","x":1871,"y":2.43},{"s":"0.4","x":1923,"y":1.71},{"s":"0.4","x":1974,"y":1.1},{"s":"0.4","x":2018,"y":0.82},{"s":"0.4","x":2077,"y":0.77},{"s":"0.4","x":2162,"y":0.43},{"s":"0.4","x":2248,"y":0.27},{"s":"0.4","x":2343,"y":0.16},{"s":"0.4","x":2419,"y":0.1},{"s":"0.4","x":2497,"y":0.16},{"s":"0.4","x":2573,"y":0.21},{"s":"0.4","x":2658,"y":0.04},{"s":"0.4","x":2727,"y":0.27},{"s":"0.4","x":2812,"y":0.32},{"s":"0.4","x":2898,"y":0.21},{"s":"0.4","x":2966,"y":0.27},{"s":"0.4","x":3052,"y":0.21},{"s":"0.4","x":3154,"y":0.27},{"s":"0.4","x":3250,"y":0.21},{"s":"0.4","x":3325,"y":0.38},{"s":"0.4","x":3394,"y":0.6},{"s":"0.4","x":3496,"y":0.77},{"s":"0.4","x":3616,"y":0.88},{"s":"0.4","x":3702,"y":0.99},{"s":"0.4","x":3770,"y":1.1},{"s":"0.4","x":3856,"y":1.32},{"s":"0.4","x":3924,"y":1.43},{"s":"0.4","x":4010,"y":1.6},{"s":"0.4","x":4078,"y":1.66},{"s":"0.4","x":4146,"y":1.66},{"s":"0.4","x":4181,"y":1.77},
{"s":"0.5","x":315,"y":1.49},{"s":"0.5","x":366,"y":1.71},{"s":"0.5","x":417,"y":1.55},{"s":"0.5","x":458,"y":1.69},{"s":"0.5","x":503,"y":1.68},{"s":"0.5","x":547,"y":1.16},{"s":"0.5","x":571,"y":1.88},{"s":"0.5","x":623,"y":1.71},{"s":"0.5","x":691,"y":1.54},{"s":"0.5","x":760,"y":1.77},{"s":"0.5","x":811,"y":1.73},{"s":"0.5","x":879,"y":1.88},{"s":"0.5","x":931,"y":1.6},{"s":"0.5","x":982,"y":2.02},{"s":"0.5","x":1033,"y":2.1},{"s":"0.5","x":1102,"y":2.27},{"s":"0.5","x":1163,"y":2.01},{"s":"0.5","x":1221,"y":2.32},{"s":"0.5","x":1273,"y":2.6},{"s":"0.5","x":1324,"y":3.1},{"s":"0.5","x":1375,"y":3.3},{"s":"0.5","x":1416,"y":4.04},{"s":"0.5","x":1451,"y":4.16},{"s":"0.5","x":1485,"y":5.16},{"s":"0.5","x":1512,"y":5.82},{"s":"0.5","x":1553,"y":6.21},{"s":"0.5","x":1581,"y":7.1},{"s":"0.5","x":1615,"y":6.99},{"s":"0.5","x":1649,"y":7.27},{"s":"0.5","x":1690,"y":7.49},{"s":"0.5","x":1711,"y":7.54},{"s":"0.5","x":1735,"y":7.08},{"s":"0.5","x":1769,"y":6.38},{"s":"0.5","x":1803,"y":5.04},{"s":"0.5","x":1837,"y":3.82},{"s":"0.5","x":1871,"y":3.16},{"s":"0.5","x":1906,"y":2.41},{"s":"0.5","x":1957,"y":1.82},{"s":"0.5","x":2008,"y":1.27},{"s":"0.5","x":2053,"y":0.99},{"s":"0.5","x":2111,"y":0.71},{"s":"0.5","x":2190,"y":0.43},{"s":"0.5","x":2265,"y":0.32},{"s":"0.5","x":2361,"y":0.43},{"s":"0.5","x":2436,"y":0.27},{"s":"0.5","x":2521,"y":0.34},{"s":"0.5","x":2607,"y":0.49},{"s":"0.5","x":2675,"y":0.32},{"s":"0.5","x":2761,"y":0.27},{"s":"0.5","x":2846,"y":0.38},{"s":"0.5","x":2932,"y":0.32},{"s":"0.5","x":3017,"y":0.43},{"s":"0.5","x":3086,"y":0.38},{"s":"0.5","x":3189,"y":0.43},{"s":"0.5","x":3291,"y":0.49},{"s":"0.5","x":3394,"y":0.66},{"s":"0.5","x":3462,"y":0.88},{"s":"0.5","x":3524,"y":0.99},{"s":"0.5","x":3599,"y":1.1},{"s":"0.5","x":3702,"y":1.27},{"s":"0.5","x":3777,"y":1.29},{"s":"0.5","x":3856,"y":1.49},{"s":"0.5","x":3941,"y":1.73},{"s":"0.5","x":4010,"y":1.88},{"s":"0.5","x":4078,"y":1.97},{"s":"0.5","x":4146,"y":1.97},{"s":"0.5","x":4181,"y":1.93},
{"s":"0.6","x":315,"y":0.99},{"s":"0.6","x":332,"y":2.49},{"s":"0.6","x":383,"y":2.6},{"s":"0.6","x":420,"y":2.43},{"s":"0.6","x":452,"y":2.36},{"s":"0.6","x":503,"y":2.38},{"s":"0.6","x":527,"y":1.38},{"s":"0.6","x":547,"y":2.54},{"s":"0.6","x":616,"y":2.4},{"s":"0.6","x":691,"y":2.49},{"s":"0.6","x":760,"y":2.54},{"s":"0.6","x":794,"y":2.58},{"s":"0.6","x":845,"y":2.66},{"s":"0.6","x":896,"y":2.77},{"s":"0.6","x":958,"y":2.99},{"s":"0.6","x":1016,"y":3.16},{"s":"0.6","x":1067,"y":3.27},{"s":"0.6","x":1129,"y":3.47},{"s":"0.6","x":1187,"y":3.77},{"s":"0.6","x":1238,"y":4.27},{"s":"0.6","x":1290,"y":4.6},{"s":"0.6","x":1324,"y":5.32},{"s":"0.6","x":1375,"y":6.04},{"s":"0.6","x":1410,"y":7.04},{"s":"0.6","x":1444,"y":7.49},{"s":"0.6","x":1471,"y":8.38},{"s":"0.6","x":1495,"y":8.82},{"s":"0.6","x":1512,"y":9.93},{"s":"0.6","x":1540,"y":10.6},{"s":"0.6","x":1563,"y":10.93},{"s":"0.6","x":1581,"y":11.43},{"s":"0.6","x":1608,"y":11.58},{"s":"0.6","x":1632,"y":11.38},{"s":"0.6","x":1649,"y":10.99},{"s":"0.6","x":1683,"y":10.04},{"s":"0.6","x":1717,"y":8.38},{"s":"0.6","x":1752,"y":7.04},{"s":"0.6","x":1786,"y":5.93},{"s":"0.6","x":1820,"y":4.6},{"s":"0.6","x":1854,"y":3.38},{"s":"0.6","x":1906,"y":2.6},{"s":"0.6","x":1957,"y":2.04},{"s":"0.6","x":2001,"y":1.66},{"s":"0.6","x":2060,"y":1.27},{"s":"0.6","x":2111,"y":1.1},{"s":"0.6","x":2155,"y":0.77},{"s":"0.6","x":2231,"y":0.43},{"s":"0.6","x":2316,"y":0.16},{"s":"0.6","x":2402,"y":0.1},{"s":"0.6","x":2470,"y":0.1},{"s":"0.6","x":2556,"y":0.27},{"s":"0.6","x":2624,"y":0.38},{"s":"0.6","x":2692,"y":0.38},{"s":"0.6","x":2778,"y":0.49},{"s":"0.6","x":2829,"y":0.82},{"s":"0.6","x":2863,"y":0.38},{"s":"0.6","x":2881,"y":0.38},{"s":"0.6","x":2949,"y":0.43},{"s":"0.6","x":3017,"y":0.49},{"s":"0.6","x":3069,"y":0.51},{"s":"0.6","x":3154,"y":0.77},{"s":"0.6","x":3250,"y":1.1},{"s":"0.6","x":3325,"y":1.16},{"s":"0.6","x":3411,"y":1.29},{"s":"0.6","x":3496,"y":1.43},{"s":"0.6","x":3599,"y":1.49},{"s":"0.6","x":3685,"y":1.54},{"s":"0.6","x":3770,"y":1.71},{"s":"0.6","x":3838,"y":1.88},{"s":"0.6","x":3890,"y":1.99},{"s":"0.6","x":3958,"y":2.16},{"s":"0.6","x":4027,"y":2.32},{"s":"0.6","x":4078,"y":2.43},{"s":"0.6","x":4129,"y":2.54},{"s":"0.6","x":4153,"y":2.66},{"s":"0.6","x":4181,"y":2.73}
],
"bm": [
{"s":"0.1","x":366,"y":0.73},{"s":"0.1","x":606,"y":0.62},{"s":"0.1","x":787,"y":0.69},{"s":"0.1","x":955,"y":0.54},{"s":"0.1","x":1129,"y":0.71},{"s":"0.1","x":1348,"y":1.1},{"s":"0.1","x":1522,"y":1.47},{"s":"0.1","x":1690,"y":2.43},{"s":"0.1","x":1861,"y":1.9},{"s":"0.1","x":2018,"y":0.69},{"s":"0.1","x":2145,"y":0.38},{"s":"0.1","x":2333,"y":0.16},{"s":"0.1","x":2573,"y":0.16},{"s":"0.1","x":2846,"y":0.21},{"s":"0.1","x":3240,"y":0.16},{"s":"0.1","x":3455,"y":0.62},{"s":"0.1","x":3729,"y":0.66},{"s":"0.1","x":3890,"y":0.79},{"s":"0.1","x":4037,"y":1.21},{"s":"0.1","x":4119,"y":1.36},
{"s":"0.2","x":376,"y":0.96},{"s":"0.2","x":452,"y":0.73},{"s":"0.2","x":794,"y":0.82},{"s":"0.2","x":948,"y":1.01},{"s":"0.2","x":1129,"y":0.77},{"s":"0.2","x":1348,"y":1.21},{"s":"0.2","x":1529,"y":2.04},{"s":"0.2","x":1711,"y":3.38},{"s":"0.2","x":1861,"y":2.77},{"s":"0.2","x":2008,"y":1.27},{"s":"0.2","x":2162,"y":0.6},{"s":"0.2","x":2316,"y":0.43},{"s":"0.2","x":2460,"y":0.49},{"s":"0.2","x":2727,"y":0.54},{"s":"0.2","x":2898,"y":0.6},{"s":"0.2","x":3052,"y":0.51},{"s":"0.2","x":3240,"y":0.51},{"s":"0.2","x":3445,"y":0.66},{"s":"0.2","x":3702,"y":1.1},{"s":"0.2","x":3890,"y":1.38},{"s":"0.2","x":4146,"y":1.69},
{"s":"0.3","x":298,"y":0.51},{"s":"0.3","x":452,"y":1.07},{"s":"0.3","x":616,"y":0.73},{"s":"0.3","x":811,"y":0.82},{"s":"0.3","x":982,"y":0.88},{"s":"0.3","x":1153,"y":0.93},{"s":"0.3","x":1375,"y":1.36},{"s":"0.3","x":1529,"y":2.16},{"s":"0.3","x":1700,"y":3.54},{"s":"0.3","x":1854,"y":2.38},{"s":"0.3","x":2008,"y":0.82},{"s":"0.3","x":2145,"y":0.49},{"s":"0.3","x":2333,"y":0.16},{"s":"0.3","x":2539,"y":0.16},{"s":"0.3","x":2812,"y":0.21},{"s":"0.3","x":3052,"y":0.16},{"s":"0.3","x":3240,"y":0.21},{"s":"0.3","x":3496,"y":0.82},{"s":"0.3","x":3736,"y":1.04},{"s":"0.3","x":3924,"y":1.43},{"s":"0.3","x":4146,"y":1.66},
{"s":"0.4","x":308,"y":1.24},{"s":"0.4","x":445,"y":1.07},{"s":"0.4","x":616,"y":1.21},{"s":"0.4","x":794,"y":1.1},{"s":"0.4","x":965,"y":1.27},{"s":"0.4","x":1129,"y":1.4},{"s":"0.4","x":1375,"y":1.91},{"s":"0.4","x":1546,"y":3.82},{"s":"0.4","x":1711,"y":4.66},{"s":"0.4","x":1871,"y":2.43},{"s":"0.4","x":2018,"y":0.82},{"s":"0.4","x":2162,"y":0.43},{"s":"0.4","x":2343,"y":0.16},{"s":"0.4","x":2497,"y":0.16},{"s":"0.4","x":2658,"y":0.04},{"s":"0.4","x":2966,"y":0.27},{"s":"0.4","x":3250,"y":0.21},{"s":"0.4","x":3394,"y":0.6},{"s":"0.4","x":3770,"y":1.1},{"s":"0.4","x":3924,"y":1.43},{"s":"0.4","x":4078,"y":1.66},{"s":"0.4","x":4146,"y":1.66},
{"s":"0.5","x":315,"y":1.49},{"s":"0.5","x":458,"y":1.69},{"s":"0.5","x":623,"y":1.71},{"s":"0.5","x":811,"y":1.73},{"s":"0.5","x":982,"y":2.02},{"s":"0.5","x":1163,"y":2.01},{"s":"0.5","x":1375,"y":3.3},{"s":"0.5","x":1553,"y":6.21},{"s":"0.5","x":1735,"y":7.08},{"s":"0.5","x":1906,"y":2.41},{"s":"0.5","x":2053,"y":0.99},{"s":"0.5","x":2190,"y":0.43},{"s":"0.5","x":2361,"y":0.43},{"s":"0.5","x":2521,"y":0.34},{"s":"0.5","x":2761,"y":0.27},{"s":"0.5","x":2932,"y":0.32},{"s":"0.5","x":3086,"y":0.38},{"s":"0.5","x":3291,"y":0.49},{"s":"0.5","x":3524,"y":0.99},{"s":"0.5","x":3777,"y":1.29},{"s":"0.5","x":3941,"y":1.73},{"s":"0.5","x":4078,"y":1.97},{"s":"0.5","x":4146,"y":1.97},
{"s":"0.6","x":315,"y":0.99},{"s":"0.6","x":452,"y":2.36},{"s":"0.6","x":616,"y":2.4},{"s":"0.6","x":794,"y":2.58},{"s":"0.6","x":958,"y":2.99},{"s":"0.6","x":1129,"y":3.47},{"s":"0.6","x":1324,"y":5.32},{"s":"0.6","x":1512,"y":9.93},{"s":"0.6","x":1683,"y":10.04},{"s":"0.6","x":1854,"y":3.38},{"s":"0.6","x":2001,"y":1.66},{"s":"0.6","x":2155,"y":0.77},{"s":"0.6","x":2316,"y":0.16},{"s":"0.6","x":2470,"y":0.1},{"s":"0.6","x":2624,"y":0.38},{"s":"0.6","x":2881,"y":0.38},{"s":"0.6","x":3069,"y":0.51},{"s":"0.6","x":3250,"y":1.1},{"s":"0.6","x":3411,"y":1.29},{"s":"0.6","x":3685,"y":1.54},{"s":"0.6","x":3890,"y":1.99},{"s":"0.6","x":4027,"y":2.32},{"s":"0.6","x":4129,"y":2.54},{"s":"0.6","x":4153,"y":2.66}
],
"c": [
{"s":"0.1","x":356,"y":0.6},{"s":"0.1","x":383,"y":1.3},{"s":"0.1","x":452,"y":1.35},{"s":"0.1","x":520,"y":1.33},{"s":"0.1","x":606,"y":1.32},{"s":"0.1","x":674,"y":1.35},{"s":"0.1","x":725,"y":1.3},{"s":"0.1","x":794,"y":1.37},{"s":"0.1","x":845,"y":1.26},{"s":"0.1","x":896,"y":1.35},{"s":"0.1","x":948,"y":1.35},{"s":"0.1","x":1016,"y":1.42},{"s":"0.1","x":1085,"y":1.61},{"s":"0.1","x":1129,"y":1.59},{"s":"0.1","x":1187,"y":1.61},{"s":"0.1","x":1256,"y":1.51},{"s":"0.1","x":1307,"y":1.65},{"s":"0.1","x":1341,"y":1.76},{"s":"0.1","x":1410,"y":2.03},{"s":"0.1","x":1471,"y":2.24},{"s":"0.1","x":1522,"y":2.26},{"s":"0.1","x":1563,"y":2.45},{"s":"0.1","x":1598,"y":2.55},{"s":"0.1","x":1632,"y":2.36},{"s":"0.1","x":1683,"y":2.16},{"s":"0.1","x":1717,"y":1.98},{"s":"0.1","x":1769,"y":2.36},{"s":"0.1","x":1820,"y":2.03},{"s":"0.1","x":1854,"y":2.12},{"s":"0.1","x":1906,"y":1.75},{"s":"0.1","x":1957,"y":1.33},{"s":"0.1","x":2008,"y":1.16},{"s":"0.1","x":2032,"y":0.93},{"s":"0.1","x":2077,"y":0.9},{"s":"0.1","x":2138,"y":0.77},{"s":"0.1","x":2214,"y":0.58},{"s":"0.1","x":2309,"y":0.47},{"s":"0.1","x":2385,"y":0.58},{"s":"0.1","x":2470,"y":0.53},{"s":"0.1","x":2539,"y":0.48},{"s":"0.1","x":2624,"y":0.58},{"s":"0.1","x":2692,"y":0.51},{"s":"0.1","x":2778,"y":0.58},{"s":"0.1","x":2881,"y":0.58},{"s":"0.1","x":2949,"y":0.62},{"s":"0.1","x":3017,"y":0.69},{"s":"0.1","x":3086,"y":0.74},{"s":"0.1","x":3171,"y":0.81},{"s":"0.1","x":3257,"y":0.91},{"s":"0.1","x":3325,"y":0.95},{"s":"0.1","x":3394,"y":1.0},{"s":"0.1","x":3455,"y":1.01},{"s":"0.1","x":3513,"y":0.9},{"s":"0.1","x":3582,"y":0.79},{"s":"0.1","x":3650,"y":0.74},{"s":"0.1","x":3719,"y":0.72},{"s":"0.1","x":3804,"y":0.65},{"s":"0.1","x":3890,"y":0.62},{"s":"0.1","x":3975,"y":0.65},{"s":"0.1","x":4044,"y":0.72},{"s":"0.1","x":4112,"y":0.76},{"s":"0.1","x":4181,"y":0.86},
{"s":"0.2","x":342,"y":1.05},{"s":"0.2","x":376,"y":0.86},{"s":"0.2","x":400,"y":0.74},{"s":"0.2","x":434,"y":1.26},{"s":"0.2","x":486,"y":1.35},{"s":"0.2","x":554,"y":1.33},{"s":"0.2","x":606,"y":1.18},{"s":"0.2","x":674,"y":1.28},{"s":"0.2","x":725,"y":1.35},{"s":"0.2","x":787,"y":1.33},{"s":"0.2","x":862,"y":1.4},{"s":"0.2","x":931,"y":1.35},{"s":"0.2","x":999,"y":1.4},{"s":"0.2","x":1067,"y":1.47},{"s":"0.2","x":1129,"y":1.48},{"s":"0.2","x":1204,"y":1.56},{"s":"0.2","x":1273,"y":1.61},{"s":"0.2","x":1341,"y":1.68},{"s":"0.2","x":1410,"y":1.94},{"s":"0.2","x":1471,"y":2.12},{"s":"0.2","x":1529,"y":2.18},{"s":"0.2","x":1581,"y":2.26},{"s":"0.2","x":1615,"y":2.17},{"s":"0.2","x":1649,"y":1.98},{"s":"0.2","x":1683,"y":1.8},{"s":"0.2","x":1711,"y":1.77},{"s":"0.2","x":1752,"y":2.08},{"s":"0.2","x":1786,"y":2.33},{"s":"0.2","x":1820,"y":2.57},{"s":"0.2","x":1871,"y":2.47},{"s":"0.2","x":1906,"y":2.17},{"s":"0.2","x":1957,"y":1.51},{"s":"0.2","x":2008,"y":1.15},{"s":"0.2","x":2043,"y":0.81},{"s":"0.2","x":2094,"y":0.58},{"s":"0.2","x":2155,"y":0.45},{"s":"0.2","x":2214,"y":0.3},{"s":"0.2","x":2265,"y":0.18},{"s":"0.2","x":2326,"y":0.23},{"s":"0.2","x":2374,"y":0.02},{"s":"0.2","x":2419,"y":0.15},{"s":"0.2","x":2463,"y":0.19},{"s":"0.2","x":2522,"y":0.13},{"s":"0.2","x":2573,"y":0.25},{"s":"0.2","x":2624,"y":0.3},{"s":"0.2","x":2675,"y":0.34},{"s":"0.2","x":2744,"y":0.33},{"s":"0.2","x":2812,"y":0.37},{"s":"0.2","x":2898,"y":0.39},{"s":"0.2","x":2966,"y":0.34},{"s":"0.2","x":3045,"y":0.41},{"s":"0.2","x":3120,"y":0.46},{"s":"0.2","x":3188,"y":0.58},{"s":"0.2","x":3274,"y":0.53},{"s":"0.2","x":3342,"y":0.6},{"s":"0.2","x":3394,"y":0.76},{"s":"0.2","x":3445,"y":0.85},{"s":"0.2","x":3496,"y":0.72},{"s":"0.2","x":3565,"y":0.58},{"s":"0.2","x":3633,"y":0.53},{"s":"0.2","x":3702,"y":0.55},{"s":"0.2","x":3770,"y":0.48},{"s":"0.2","x":3838,"y":0.44},{"s":"0.2","x":3907,"y":0.39},{"s":"0.2","x":3975,"y":0.44},{"s":"0.2","x":4044,"y":0.48},{"s":"0.2","x":4095,"y":0.58},{"s":"0.2","x":4146,"y":0.74},{"s":"0.2","x":4181,"y":0.81},
{"s":"0.3","x":298,"y":0.6},{"s":"0.3","x":322,"y":1.35},{"s":"0.3","x":383,"y":1.35},{"s":"0.3","x":458,"y":1.42},{"s":"0.3","x":554,"y":1.49},{"s":"0.3","x":616,"y":1.24},{"s":"0.3","x":691,"y":1.33},{"s":"0.3","x":760,"y":1.37},{"s":"0.3","x":811,"y":1.4},{"s":"0.3","x":879,"y":1.4},{"s":"0.3","x":931,"y":1.37},{"s":"0.3","x":992,"y":1.49},{"s":"0.3","x":1050,"y":1.54},{"s":"0.3","x":1119,"y":1.56},{"s":"0.3","x":1170,"y":1.61},{"s":"0.3","x":1238,"y":1.56},{"s":"0.3","x":1307,"y":1.65},{"s":"0.3","x":1375,"y":1.77},{"s":"0.3","x":1427,"y":2.03},{"s":"0.3","x":1478,"y":2.36},{"s":"0.3","x":1512,"y":2.55},{"s":"0.3","x":1539,"y":2.64},{"s":"0.3","x":1581,"y":2.36},{"s":"0.3","x":1615,"y":2.5},{"s":"0.3","x":1649,"y":2.26},{"s":"0.3","x":1700,"y":2.64},{"s":"0.3","x":1735,"y":2.26},{"s":"0.3","x":1769,"y":2.55},{"s":"0.3","x":1793,"y":2.9},{"s":"0.3","x":1827,"y":2.8},{"s":"0.3","x":1871,"y":2.66},{"s":"0.3","x":1923,"y":2.17},{"s":"0.3","x":1974,"y":1.51},{"s":"0.3","x":2018,"y":1.26},{"s":"0.3","x":2077,"y":1.14},{"s":"0.3","x":2128,"y":1.0},{"s":"0.3","x":2169,"y":0.9},{"s":"0.3","x":2231,"y":0.72},{"s":"0.3","x":2282,"y":0.67},{"s":"0.3","x":2333,"y":0.62},{"s":"0.3","x":2385,"y":0.41},{"s":"0.3","x":2443,"y":0.46},{"s":"0.3","x":2504,"y":0.58},{"s":"0.3","x":2573,"y":0.44},{"s":"0.3","x":2641,"y":0.48},{"s":"0.3","x":2710,"y":0.41},{"s":"0.3","x":2778,"y":0.53},{"s":"0.3","x":2846,"y":0.44},{"s":"0.3","x":2932,"y":0.48},{"s":"0.3","x":3000,"y":0.44},{"s":"0.3","x":3069,"y":0.48},{"s":"0.3","x":3147,"y":0.65},{"s":"0.3","x":3188,"y":0.58},{"s":"0.3","x":3229,"y":0.65},{"s":"0.3","x":3291,"y":0.58},{"s":"0.3","x":3360,"y":0.67},{"s":"0.3","x":3428,"y":0.62},{"s":"0.3","x":3496,"y":0.58},{"s":"0.3","x":3565,"y":0.44},{"s":"0.3","x":3633,"y":0.39},{"s":"0.3","x":3702,"y":0.41},{"s":"0.3","x":3770,"y":0.46},{"s":"0.3","x":3856,"y":0.39},{"s":"0.3","x":3941,"y":0.51},{"s":"0.3","x":4010,"y":0.67},{"s":"0.3","x":4078,"y":0.76},{"s":"0.3","x":4146,"y":0.9},{"s":"0.3","x":4181,"y":0.93},
{"s":"0.4","x":298,"y":1.33},{"s":"0.4","x":342,"y":1.35},{"s":"0.4","x":400,"y":1.4},{"s":"0.4","x":452,"y":1.41},{"s":"0.4","x":503,"y":1.49},{"s":"0.4","x":554,"y":1.56},{"s":"0.4","x":616,"y":1.35},{"s":"0.4","x":674,"y":1.44},{"s":"0.4","x":725,"y":1.42},{"s":"0.4","x":794,"y":1.49},{"s":"0.4","x":862,"y":1.54},{"s":"0.4","x":913,"y":1.58},{"s":"0.4","x":965,"y":1.65},{"s":"0.4","x":1033,"y":1.7},{"s":"0.4","x":1085,"y":1.75},{"s":"0.4","x":1129,"y":1.79},{"s":"0.4","x":1187,"y":1.82},{"s":"0.4","x":1238,"y":1.84},{"s":"0.4","x":1307,"y":2.03},{"s":"0.4","x":1375,"y":2.04},{"s":"0.4","x":1410,"y":2.26},{"s":"0.4","x":1461,"y":2.41},{"s":"0.4","x":1495,"y":2.5},{"s":"0.4","x":1539,"y":2.92},{"s":"0.4","x":1581,"y":2.73},{"s":"0.4","x":1632,"y":2.45},{"s":"0.4","x":1676,"y":2.64},{"s":"0.4","x":1711,"y":2.52},{"s":"0.4","x":1752,"y":2.83},{"s":"0.4","x":1786,"y":3.1},{"s":"0.4","x":1827,"y":2.97},{"s":"0.4","x":1871,"y":2.51},{"s":"0.4","x":1923,"y":2.12},{"s":"0.4","x":1974,"y":1.84},{"s":"0.4","x":2018,"y":1.6},{"s":"0.4","x":2077,"y":1.09},{"s":"0.4","x":2128,"y":1.0},{"s":"0.4","x":2169,"y":0.86},{"s":"0.4","x":2231,"y":0.72},{"s":"0.4","x":2282,"y":0.58},{"s":"0.4","x":2333,"y":0.53},{"s":"0.4","x":2402,"y":0.44},{"s":"0.4","x":2453,"y":0.34},{"s":"0.4","x":2497,"y":0.3},{"s":"0.4","x":2556,"y":0.48},{"s":"0.4","x":2607,"y":0.41},{"s":"0.4","x":2675,"y":0.44},{"s":"0.4","x":2744,"y":0.48},{"s":"0.4","x":2812,"y":0.39},{"s":"0.4","x":2840,"y":0.11},{"s":"0.4","x":2881,"y":0.39},{"s":"0.4","x":2949,"y":0.39},{"s":"0.4","x":3017,"y":0.44},{"s":"0.4","x":3079,"y":0.44},{"s":"0.4","x":3154,"y":0.51},{"s":"0.4","x":3240,"y":0.55},{"s":"0.4","x":3325,"y":0.53},{"s":"0.4","x":3411,"y":0.44},{"s":"0.4","x":3462,"y":0.34},{"s":"0.4","x":3513,"y":0.26},{"s":"0.4","x":3582,"y":0.18},{"s":"0.4","x":3650,"y":0.25},{"s":"0.4","x":3719,"y":0.3},{"s":"0.4","x":3804,"y":0.44},{"s":"0.4","x":3873,"y":0.51},{"s":"0.4","x":3941,"y":0.53},{"s":"0.4","x":4010,"y":0.72},{"s":"0.4","x":4078,"y":0.86},{"s":"0.4","x":4146,"y":0.99},{"s":"0.4","x":4181,"y":1.02},
{"s":"0.5","x":308,"y":1.47},{"s":"0.5","x":332,"y":1.61},{"s":"0.5","x":417,"y":1.49},{"s":"0.5","x":458,"y":1.55},{"s":"0.5","x":503,"y":1.61},{"s":"0.5","x":554,"y":1.56},{"s":"0.5","x":588,"y":1.7},{"s":"0.5","x":616,"y":1.67},{"s":"0.5","x":691,"y":1.61},{"s":"0.5","x":760,"y":1.73},{"s":"0.5","x":801,"y":1.74},{"s":"0.5","x":845,"y":1.65},{"s":"0.5","x":896,"y":1.87},{"s":"0.5","x":972,"y":2.0},{"s":"0.5","x":1033,"y":1.84},{"s":"0.5","x":1085,"y":2.03},{"s":"0.5","x":1153,"y":2.2},{"s":"0.5","x":1204,"y":2.08},{"s":"0.5","x":1256,"y":2.41},{"s":"0.5","x":1307,"y":2.38},{"s":"0.5","x":1375,"y":2.91},{"s":"0.5","x":1427,"y":3.16},{"s":"0.5","x":1471,"y":3.44},{"s":"0.5","x":1512,"y":3.69},{"s":"0.5","x":1553,"y":3.53},{"s":"0.5","x":1581,"y":3.06},{"s":"0.5","x":1615,"y":2.69},{"s":"0.5","x":1649,"y":3.11},{"s":"0.5","x":1683,"y":3.39},{"s":"0.5","x":1724,"y":3.44},{"s":"0.5","x":1758,"y":3.58},{"s":"0.5","x":1786,"y":3.91},{"s":"0.5","x":1820,"y":3.53},{"s":"0.5","x":1854,"y":3.11},{"s":"0.5","x":1899,"y":2.8},{"s":"0.5","x":1940,"y":2.45},{"s":"0.5","x":1991,"y":1.89},{"s":"0.5","x":2053,"y":1.5},{"s":"0.5","x":2111,"y":1.23},{"s":"0.5","x":2190,"y":1.09},{"s":"0.5","x":2248,"y":0.86},{"s":"0.5","x":2299,"y":0.76},{"s":"0.5","x":2361,"y":0.7},{"s":"0.5","x":2419,"y":0.62},{"s":"0.5","x":2487,"y":0.76},{"s":"0.5","x":2556,"y":0.65},{"s":"0.5","x":2624,"y":0.66},{"s":"0.5","x":2692,"y":0.53},{"s":"0.5","x":2761,"y":0.44},{"s":"0.5","x":2829,"y":0.48},{"s":"0.5","x":2915,"y":0.34},{"s":"0.5","x":3000,"y":0.39},{"s":"0.5","x":3079,"y":0.27},{"s":"0.5","x":3137,"y":0.44},{"s":"0.5","x":3206,"y":0.41},{"s":"0.5","x":3301,"y":0.39},{"s":"0.5","x":3394,"y":0.3},{"s":"0.5","x":3445,"y":0.11},{"s":"0.5","x":3513,"y":0.27},{"s":"0.5","x":3582,"y":0.06},{"s":"0.5","x":3650,"y":0.01},{"s":"0.5","x":3702,"y":0.3},{"s":"0.5","x":3770,"y":0.44},{"s":"0.5","x":3856,"y":0.37},{"s":"0.5","x":3941,"y":0.28},{"s":"0.5","x":4010,"y":0.53},{"s":"0.5","x":4078,"y":0.69},{"s":"0.5","x":4146,"y":0.62},{"s":"0.5","x":4181,"y":0.67},
{"s":"0.6","x":315,"y":0.51},{"s":"0.6","x":342,"y":1.51},{"s":"0.6","x":356,"y":1.77},{"s":"0.6","x":417,"y":1.73},{"s":"0.6","x":445,"y":1.87},{"s":"0.6","x":458,"y":1.68},{"s":"0.6","x":503,"y":1.68},{"s":"0.6","x":554,"y":1.84},{"s":"0.6","x":616,"y":1.7},{"s":"0.6","x":657,"y":1.8},{"s":"0.6","x":708,"y":1.91},{"s":"0.6","x":760,"y":1.84},{"s":"0.6","x":794,"y":1.88},{"s":"0.6","x":845,"y":1.96},{"s":"0.6","x":896,"y":2.08},{"s":"0.6","x":958,"y":2.15},{"s":"0.6","x":1016,"y":2.31},{"s":"0.6","x":1067,"y":2.36},{"s":"0.6","x":1129,"y":2.41},{"s":"0.6","x":1187,"y":2.59},{"s":"0.6","x":1238,"y":2.83},{"s":"0.6","x":1290,"y":2.92},{"s":"0.6","x":1324,"y":3.4},{"s":"0.6","x":1375,"y":3.67},{"s":"0.6","x":1410,"y":3.98},{"s":"0.6","x":1444,"y":4.09},{"s":"0.6","x":1471,"y":4.3},{"s":"0.6","x":1495,"y":4.19},{"s":"0.6","x":1512,"y":3.85},{"s":"0.6","x":1546,"y":3.39},{"s":"0.6","x":1587,"y":2.69},{"s":"0.6","x":1615,"y":3.53},{"s":"0.6","x":1649,"y":4.19},{"s":"0.6","x":1676,"y":4.44},{"s":"0.6","x":1700,"y":4.65},{"s":"0.6","x":1724,"y":4.65},{"s":"0.6","x":1752,"y":4.33},{"s":"0.6","x":1786,"y":3.95},{"s":"0.6","x":1820,"y":3.48},{"s":"0.6","x":1854,"y":2.91},{"s":"0.6","x":1906,"y":2.45},{"s":"0.6","x":1957,"y":2.12},{"s":"0.6","x":2001,"y":1.96},{"s":"0.6","x":2060,"y":1.8},{"s":"0.6","x":2111,"y":1.56},{"s":"0.6","x":2155,"y":1.51},{"s":"0.6","x":2214,"y":1.23},{"s":"0.6","x":2265,"y":1.09},{"s":"0.6","x":2299,"y":0.95},{"s":"0.6","x":2368,"y":0.9},{"s":"0.6","x":2419,"y":0.81},{"s":"0.6","x":2470,"y":0.83},{"s":"0.6","x":2539,"y":0.67},{"s":"0.6","x":2590,"y":0.62},{"s":"0.6","x":2624,"y":0.58},{"s":"0.6","x":2675,"y":0.72},{"s":"0.6","x":2710,"y":0.74},{"s":"0.6","x":2778,"y":0.81},{"s":"0.6","x":2812,"y":0.65},{"s":"0.6","x":2846,"y":0.53},{"s":"0.6","x":2881,"y":0.53},{"s":"0.6","x":2932,"y":0.62},{"s":"0.6","x":2983,"y":0.67},{"s":"0.6","x":3062,"y":0.77},{"s":"0.6","x":3120,"y":0.9},{"s":"0.6","x":3171,"y":0.83},{"s":"0.6","x":3223,"y":0.9},{"s":"0.6","x":3264,"y":0.81},{"s":"0.6","x":3325,"y":0.72},{"s":"0.6","x":3376,"y":0.65},{"s":"0.6","x":3421,"y":0.6},{"s":"0.6","x":3496,"y":0.53},{"s":"0.6","x":3565,"y":0.44},{"s":"0.6","x":3633,"y":0.34},{"s":"0.6","x":3695,"y":0.2},{"s":"0.6","x":3753,"y":0.13},{"s":"0.6","x":3804,"y":0.27},{"s":"0.6","x":3890,"y":0.3},{"s":"0.6","x":3958,"y":0.32},{"s":"0.6","x":4027,"y":0.39},{"s":"0.6","x":4078,"y":0.62},{"s":"0.6","x":4112,"y":0.65},{"s":"0.6","x":4146,"y":0.83},{"s":"0.6","x":4181,"y":0.9}
],
"cm": [
{"s":"0.1","x":356,"y":0.6},{"s":"0.1","x":606,"y":1.32},{"s":"0.1","x":794,"y":1.37},{"s":"0.1","x":948,"y":1.35},{"s":"0.1","x":1129,"y":1.59},{"s":"0.1","x":1341,"y":1.76},{"s":"0.1","x":1522,"y":2.26},{"s":"0.1","x":1683,"y":2.16},{"s":"0.1","x":1854,"y":2.12},{"s":"0.1","x":2008,"y":1.16},{"s":"0.1","x":2138,"y":0.77},{"s":"0.1","x":2309,"y":0.47},{"s":"0.1","x":2470,"y":0.53},{"s":"0.1","x":2692,"y":0.51},{"s":"0.1","x":2881,"y":0.58},{"s":"0.1","x":3017,"y":0.69},{"s":"0.1","x":3257,"y":0.91},{"s":"0.1","x":3455,"y":1.01},{"s":"0.1","x":3719,"y":0.72},{"s":"0.1","x":3890,"y":0.62},{"s":"0.1","x":4112,"y":0.76},
{"s":"0.2","x":400,"y":0.74},{"s":"0.2","x":606,"y":1.18},{"s":"0.2","x":787,"y":1.33},{"s":"0.2","x":931,"y":1.35},{"s":"0.2","x":1129,"y":1.48},{"s":"0.2","x":1341,"y":1.68},{"s":"0.2","x":1529,"y":2.18},{"s":"0.2","x":1711,"y":1.77},{"s":"0.2","x":1871,"y":2.47},{"s":"0.2","x":2008,"y":1.15},{"s":"0.2","x":2155,"y":0.45},{"s":"0.2","x":2326,"y":0.23},{"s":"0.2","x":2463,"y":0.19},{"s":"0.2","x":2624,"y":0.3},{"s":"0.2","x":2744,"y":0.33},{"s":"0.2","x":2898,"y":0.39},{"s":"0.2","x":3045,"y":0.41},{"s":"0.2","x":3274,"y":0.53},{"s":"0.2","x":3445,"y":0.85},{"s":"0.2","x":3702,"y":0.55},{"s":"0.2","x":3907,"y":0.39},{"s":"0.2","x":4044,"y":0.48},{"s":"0.2","x":4146,"y":0.74},
{"s":"0.3","x":298,"y":0.6},{"s":"0.3","x":458,"y":1.42},{"s":"0.3","x":616,"y":1.24},{"s":"0.3","x":811,"y":1.4},{"s":"0.3","x":992,"y":1.49},{"s":"0.3","x":1170,"y":1.61},{"s":"0.3","x":1375,"y":1.77},{"s":"0.3","x":1539,"y":2.64},{"s":"0.3","x":1700,"y":2.64},{"s":"0.3","x":1871,"y":2.66},{"s":"0.3","x":2018,"y":1.26},{"s":"0.3","x":2169,"y":0.9},{"s":"0.3","x":2333,"y":0.62},{"s":"0.3","x":2443,"y":0.46},{"s":"0.3","x":2641,"y":0.48},{"s":"0.3","x":2846,"y":0.44},{"s":"0.3","x":3069,"y":0.48},{"s":"0.3","x":3147,"y":0.65},{"s":"0.3","x":3229,"y":0.65},{"s":"0.3","x":3496,"y":0.58},{"s":"0.3","x":3702,"y":0.41},{"s":"0.3","x":3941,"y":0.51},{"s":"0.3","x":4146,"y":0.9},
{"s":"0.4","x":298,"y":1.33},{"s":"0.4","x":452,"y":1.41},{"s":"0.4","x":616,"y":1.35},{"s":"0.4","x":794,"y":1.49},{"s":"0.4","x":965,"y":1.65},{"s":"0.4","x":1129,"y":1.79},{"s":"0.4","x":1375,"y":2.04},{"s":"0.4","x":1539,"y":2.92},{"s":"0.4","x":1711,"y":2.52},{"s":"0.4","x":1871,"y":2.51},{"s":"0.4","x":2018,"y":1.6},{"s":"0.4","x":2169,"y":0.86},{"s":"0.4","x":2333,"y":0.53},{"s":"0.4","x":2497,"y":0.3},{"s":"0.4","x":2675,"y":0.44},{"s":"0.4","x":2881,"y":0.39},{"s":"0.4","x":3079,"y":0.44},{"s":"0.4","x":3240,"y":0.55},{"s":"0.4","x":3513,"y":0.26},{"s":"0.4","x":3719,"y":0.3},{"s":"0.4","x":3941,"y":0.53},{"s":"0.4","x":4146,"y":0.99},
{"s":"0.5","x":308,"y":1.47},{"s":"0.5","x":458,"y":1.55},{"s":"0.5","x":616,"y":1.67},{"s":"0.5","x":801,"y":1.74},{"s":"0.5","x":972,"y":2.0},{"s":"0.5","x":1153,"y":2.2},{"s":"0.5","x":1375,"y":2.91},{"s":"0.5","x":1553,"y":3.53},{"s":"0.5","x":1724,"y":3.44},{"s":"0.5","x":1899,"y":2.8},{"s":"0.5","x":2053,"y":1.5},{"s":"0.5","x":2190,"y":1.09},{"s":"0.5","x":2361,"y":0.7},{"s":"0.5","x":2556,"y":0.65},{"s":"0.5","x":2761,"y":0.44},{"s":"0.5","x":2915,"y":0.34},{"s":"0.5","x":3079,"y":0.27},{"s":"0.5","x":3206,"y":0.41},{"s":"0.5","x":3301,"y":0.39},{"s":"0.5","x":3513,"y":0.27},{"s":"0.5","x":3770,"y":0.44},{"s":"0.5","x":3941,"y":0.28},{"s":"0.5","x":4078,"y":0.69},{"s":"0.5","x":4146,"y":0.62},
{"s":"0.6","x":315,"y":0.51},{"s":"0.6","x":458,"y":1.68},{"s":"0.6","x":616,"y":1.7},{"s":"0.6","x":794,"y":1.88},{"s":"0.6","x":958,"y":2.15},{"s":"0.6","x":1129,"y":2.41},{"s":"0.6","x":1324,"y":3.4},{"s":"0.6","x":1512,"y":3.85},{"s":"0.6","x":1676,"y":4.44},{"s":"0.6","x":1854,"y":2.91},{"s":"0.6","x":2001,"y":1.96},{"s":"0.6","x":2155,"y":1.51},{"s":"0.6","x":2299,"y":0.95},{"s":"0.6","x":2470,"y":0.83},{"s":"0.6","x":2624,"y":0.58},{"s":"0.6","x":2710,"y":0.74},{"s":"0.6","x":2881,"y":0.53},{"s":"0.6","x":3062,"y":0.77},{"s":"0.6","x":3171,"y":0.83},{"s":"0.6","x":3264,"y":0.81},{"s":"0.6","x":3421,"y":0.6},{"s":"0.6","x":3695,"y":0.2},{"s":"0.6","x":3890,"y":0.3},{"s":"0.6","x":4027,"y":0.39},{"s":"0.6","x":4146,"y":0.83}
],
"d": [
{"s":"0.1","x":356,"y":0.79},{"s":"0.1","x":400,"y":1.33},{"s":"0.1","x":434,"y":1.34},{"s":"0.1","x":503,"y":1.17},{"s":"0.1","x":554,"y":1.4},{"s":"0.1","x":612,"y":1.1},{"s":"0.1","x":674,"y":1.21},{"s":"0.1","x":725,"y":1.25},{"s":"0.1","x":787,"y":1.33},{"s":"0.1","x":845,"y":1.25},{"s":"0.1","x":896,"y":1.17},{"s":"0.1","x":948,"y":1.23},{"s":"0.1","x":1016,"y":1.25},{"s":"0.1","x":1067,"y":1.21},{"s":"0.1","x":1129,"y":1.1},{"s":"0.1","x":1187,"y":1.17},{"s":"0.1","x":1256,"y":1.25},{"s":"0.1","x":1307,"y":1.29},{"s":"0.1","x":1348,"y":1.37},{"s":"0.1","x":1410,"y":1.63},{"s":"0.1","x":1471,"y":1.75},{"s":"0.1","x":1529,"y":1.9},{"s":"0.1","x":1581,"y":1.98},{"s":"0.1","x":1615,"y":1.71},{"s":"0.1","x":1649,"y":1.79},{"s":"0.1","x":1690,"y":1.67},{"s":"0.1","x":1735,"y":1.56},{"s":"0.1","x":1786,"y":1.33},{"s":"0.1","x":1820,"y":1.37},{"s":"0.1","x":1861,"y":1.21},{"s":"0.1","x":1906,"y":0.9},{"s":"0.1","x":1957,"y":0.64},{"s":"0.1","x":1991,"y":0.87},{"s":"0.1","x":2018,"y":0.81},{"s":"0.1","x":2077,"y":0.75},{"s":"0.1","x":2128,"y":0.64},{"s":"0.1","x":2145,"y":1.0},{"s":"0.1","x":2196,"y":0.71},{"s":"0.1","x":2248,"y":0.9},{"s":"0.1","x":2309,"y":0.75},{"s":"0.1","x":2368,"y":0.87},{"s":"0.1","x":2419,"y":1.02},{"s":"0.1","x":2470,"y":1.0},{"s":"0.1","x":2539,"y":1.02},{"s":"0.1","x":2607,"y":1.25},{"s":"0.1","x":2675,"y":1.13},{"s":"0.1","x":2727,"y":1.29},{"s":"0.1","x":2795,"y":1.02},{"s":"0.1","x":2881,"y":0.94},{"s":"0.1","x":2949,"y":1.06},{"s":"0.1","x":3017,"y":1.33},{"s":"0.1","x":3086,"y":1.06},{"s":"0.1","x":3154,"y":1.17},{"s":"0.1","x":3240,"y":1.1},{"s":"0.1","x":3325,"y":1.06},{"s":"0.1","x":3394,"y":0.94},{"s":"0.1","x":3455,"y":0.81},{"s":"0.1","x":3531,"y":0.94},{"s":"0.1","x":3599,"y":1.06},{"s":"0.1","x":3667,"y":0.98},{"s":"0.1","x":3712,"y":0.79},{"s":"0.1","x":3770,"y":0.75},{"s":"0.1","x":3838,"y":0.83},{"s":"0.1","x":3890,"y":0.77},{"s":"0.1","x":3958,"y":0.83},{"s":"0.1","x":4037,"y":0.79},{"s":"0.1","x":4078,"y":1.1},{"s":"0.1","x":4112,"y":1.08},{"s":"0.1","x":4181,"y":1.25},
{"s":"0.2","x":342,"y":1.1},{"s":"0.2","x":383,"y":0.87},{"s":"0.2","x":400,"y":0.94},{"s":"0.2","x":434,"y":1.21},{"s":"0.2","x":445,"y":1.16},{"s":"0.2","x":503,"y":1.29},{"s":"0.2","x":554,"y":1.06},{"s":"0.2","x":606,"y":1.13},{"s":"0.2","x":674,"y":1.1},{"s":"0.2","x":725,"y":1.21},{"s":"0.2","x":787,"y":1.06},{"s":"0.2","x":845,"y":1.1},{"s":"0.2","x":896,"y":1.06},{"s":"0.2","x":948,"y":0.75},{"s":"0.2","x":999,"y":1.06},{"s":"0.2","x":1067,"y":1.1},{"s":"0.2","x":1129,"y":1.06},{"s":"0.2","x":1187,"y":1.1},{"s":"0.2","x":1238,"y":1.21},{"s":"0.2","x":1290,"y":1.06},{"s":"0.2","x":1341,"y":1.13},{"s":"0.2","x":1410,"y":1.33},{"s":"0.2","x":1471,"y":1.48},{"s":"0.2","x":1529,"y":1.57},{"s":"0.2","x":1581,"y":1.71},{"s":"0.2","x":1632,"y":1.9},{"s":"0.2","x":1683,"y":2.02},{"s":"0.2","x":1711,"y":2.09},{"s":"0.2","x":1752,"y":2.48},{"s":"0.2","x":1786,"y":2.21},{"s":"0.2","x":1820,"y":2.63},{"s":"0.2","x":1871,"y":2.54},{"s":"0.2","x":1923,"y":2.36},{"s":"0.2","x":1957,"y":2.17},{"s":"0.2","x":2008,"y":1.96},{"s":"0.2","x":2060,"y":1.71},{"s":"0.2","x":2111,"y":1.67},{"s":"0.2","x":2155,"y":1.62},{"s":"0.2","x":2231,"y":1.48},{"s":"0.2","x":2326,"y":1.4},{"s":"0.2","x":2402,"y":1.37},{"s":"0.2","x":2463,"y":1.33},{"s":"0.2","x":2539,"y":1.29},{"s":"0.2","x":2624,"y":1.31},{"s":"0.2","x":2692,"y":1.25},{"s":"0.2","x":2761,"y":1.1},{"s":"0.2","x":2846,"y":1.17},{"s":"0.2","x":2932,"y":1.21},{"s":"0.2","x":3017,"y":1.27},{"s":"0.2","x":3103,"y":1.25},{"s":"0.2","x":3189,"y":1.17},{"s":"0.2","x":3274,"y":1.13},{"s":"0.2","x":3360,"y":1.1},{"s":"0.2","x":3445,"y":0.96},{"s":"0.2","x":3531,"y":0.98},{"s":"0.2","x":3616,"y":0.94},{"s":"0.2","x":3695,"y":0.83},{"s":"0.2","x":3770,"y":0.83},{"s":"0.2","x":3856,"y":0.9},{"s":"0.2","x":3941,"y":1.02},{"s":"0.2","x":4010,"y":1.13},{"s":"0.2","x":4078,"y":1.25},{"s":"0.2","x":4146,"y":1.42},{"s":"0.2","x":4181,"y":1.44},
{"s":"0.3","x":298,"y":0.64},{"s":"0.3","x":342,"y":1.63},{"s":"0.3","x":383,"y":1.56},{"s":"0.3","x":434,"y":1.48},{"s":"0.3","x":458,"y":1.54},{"s":"0.3","x":503,"y":1.4},{"s":"0.3","x":554,"y":1.48},{"s":"0.3","x":616,"y":1.31},{"s":"0.3","x":691,"y":1.4},{"s":"0.3","x":760,"y":1.44},{"s":"0.3","x":821,"y":1.33},{"s":"0.3","x":879,"y":1.25},{"s":"0.3","x":931,"y":1.4},{"s":"0.3","x":992,"y":1.44},{"s":"0.3","x":1050,"y":1.25},{"s":"0.3","x":1119,"y":1.37},{"s":"0.3","x":1170,"y":1.34},{"s":"0.3","x":1238,"y":1.29},{"s":"0.3","x":1307,"y":1.48},{"s":"0.3","x":1375,"y":1.57},{"s":"0.3","x":1427,"y":1.71},{"s":"0.3","x":1478,"y":1.86},{"s":"0.3","x":1529,"y":2.13},{"s":"0.3","x":1563,"y":2.44},{"s":"0.3","x":1608,"y":2.36},{"s":"0.3","x":1649,"y":2.17},{"s":"0.3","x":1683,"y":2.29},{"s":"0.3","x":1711,"y":2.21},{"s":"0.3","x":1735,"y":2.44},{"s":"0.3","x":1769,"y":2.17},{"s":"0.3","x":1813,"y":2.02},{"s":"0.3","x":1871,"y":1.73},{"s":"0.3","x":1923,"y":1.4},{"s":"0.3","x":1974,"y":1.17},{"s":"0.3","x":2018,"y":1.16},{"s":"0.3","x":2077,"y":1.1},{"s":"0.3","x":2128,"y":1.33},{"s":"0.3","x":2196,"y":1.06},{"s":"0.3","x":2265,"y":1.13},{"s":"0.3","x":2333,"y":1.02},{"s":"0.3","x":2402,"y":1.1},{"s":"0.3","x":2487,"y":1.06},{"s":"0.3","x":2573,"y":1.17},{"s":"0.3","x":2658,"y":1.1},{"s":"0.3","x":2744,"y":1.13},{"s":"0.3","x":2829,"y":1.1},{"s":"0.3","x":2915,"y":1.17},{"s":"0.3","x":3000,"y":1.31},{"s":"0.3","x":3069,"y":1.25},{"s":"0.3","x":3154,"y":1.17},{"s":"0.3","x":3240,"y":1.13},{"s":"0.3","x":3308,"y":1.1},{"s":"0.3","x":3394,"y":1.02},{"s":"0.3","x":3462,"y":1.06},{"s":"0.3","x":3513,"y":0.9},{"s":"0.3","x":3582,"y":0.94},{"s":"0.3","x":3650,"y":1.02},{"s":"0.3","x":3719,"y":0.98},{"s":"0.3","x":3787,"y":0.83},{"s":"0.3","x":3856,"y":0.94},{"s":"0.3","x":3941,"y":0.98},{"s":"0.3","x":4010,"y":1.06},{"s":"0.3","x":4078,"y":1.17},{"s":"0.3","x":4146,"y":1.37},{"s":"0.3","x":4181,"y":1.4},
{"s":"0.4","x":298,"y":1.21},{"s":"0.4","x":349,"y":1.63},{"s":"0.4","x":400,"y":1.4},{"s":"0.4","x":452,"y":1.5},{"s":"0.4","x":503,"y":1.71},{"s":"0.4","x":554,"y":1.4},{"s":"0.4","x":616,"y":1.52},{"s":"0.4","x":674,"y":1.71},{"s":"0.4","x":725,"y":1.48},{"s":"0.4","x":794,"y":1.54},{"s":"0.4","x":862,"y":1.71},{"s":"0.4","x":913,"y":1.56},{"s":"0.4","x":965,"y":1.62},{"s":"0.4","x":1033,"y":1.71},{"s":"0.4","x":1085,"y":1.63},{"s":"0.4","x":1129,"y":1.57},{"s":"0.4","x":1187,"y":1.71},{"s":"0.4","x":1238,"y":1.63},{"s":"0.4","x":1307,"y":1.71},{"s":"0.4","x":1375,"y":2.02},{"s":"0.4","x":1410,"y":2.36},{"s":"0.4","x":1461,"y":2.44},{"s":"0.4","x":1495,"y":2.4},{"s":"0.4","x":1512,"y":3.01},{"s":"0.4","x":1539,"y":3.44},{"s":"0.4","x":1581,"y":3.24},{"s":"0.4","x":1615,"y":3.32},{"s":"0.4","x":1649,"y":3.17},{"s":"0.4","x":1683,"y":3.24},{"s":"0.4","x":1711,"y":3.18},{"s":"0.4","x":1752,"y":3.09},{"s":"0.4","x":1786,"y":2.94},{"s":"0.4","x":1813,"y":2.48},{"s":"0.4","x":1837,"y":2.02},{"s":"0.4","x":1871,"y":1.73},{"s":"0.4","x":1923,"y":1.71},{"s":"0.4","x":1974,"y":1.48},{"s":"0.4","x":2018,"y":1.33},{"s":"0.4","x":2077,"y":1.25},{"s":"0.4","x":2128,"y":1.17},{"s":"0.4","x":2179,"y":1.33},{"s":"0.4","x":2231,"y":1.1},{"s":"0.4","x":2282,"y":1.21},{"s":"0.4","x":2343,"y":1.3},{"s":"0.4","x":2402,"y":1.1},{"s":"0.4","x":2453,"y":1.17},{"s":"0.4","x":2504,"y":1.23},{"s":"0.4","x":2573,"y":1.1},{"s":"0.4","x":2641,"y":1.25},{"s":"0.4","x":2710,"y":1.13},{"s":"0.4","x":2778,"y":1.29},{"s":"0.4","x":2846,"y":1.06},{"s":"0.4","x":2915,"y":1.21},{"s":"0.4","x":2983,"y":1.1},{"s":"0.4","x":3052,"y":1.17},{"s":"0.4","x":3120,"y":1.1},{"s":"0.4","x":3189,"y":1.21},{"s":"0.4","x":3250,"y":0.98},{"s":"0.4","x":3325,"y":1.06},{"s":"0.4","x":3421,"y":0.94},{"s":"0.4","x":3496,"y":1.06},{"s":"0.4","x":3565,"y":1.02},{"s":"0.4","x":3633,"y":0.98},{"s":"0.4","x":3702,"y":0.92},{"s":"0.4","x":3770,"y":0.94},{"s":"0.4","x":3856,"y":1.06},{"s":"0.4","x":3924,"y":1.17},{"s":"0.4","x":3992,"y":1.21},{"s":"0.4","x":4044,"y":1.4},{"s":"0.4","x":4095,"y":1.48},{"s":"0.4","x":4129,"y":1.71},{"s":"0.4","x":4181,"y":1.75},
{"s":"0.5","x":308,"y":1.29},{"s":"0.5","x":356,"y":1.56},{"s":"0.5","x":400,"y":1.48},{"s":"0.5","x":458,"y":1.62},{"s":"0.5","x":503,"y":1.4},{"s":"0.5","x":554,"y":1.79},{"s":"0.5","x":616,"y":1.77},{"s":"0.5","x":674,"y":1.63},{"s":"0.5","x":725,"y":1.79},{"s":"0.5","x":811,"y":1.75},{"s":"0.5","x":879,"y":1.63},{"s":"0.5","x":931,"y":1.83},{"s":"0.5","x":982,"y":1.77},{"s":"0.5","x":1033,"y":2.02},{"s":"0.5","x":1102,"y":1.9},{"s":"0.5","x":1163,"y":1.96},{"s":"0.5","x":1221,"y":2.17},{"s":"0.5","x":1273,"y":2.32},{"s":"0.5","x":1324,"y":2.36},{"s":"0.5","x":1375,"y":2.8},{"s":"0.5","x":1416,"y":3.4},{"s":"0.5","x":1451,"y":3.24},{"s":"0.5","x":1485,"y":4.32},{"s":"0.5","x":1529,"y":4.78},{"s":"0.5","x":1553,"y":4.93},{"s":"0.5","x":1581,"y":5.47},{"s":"0.5","x":1608,"y":5.12},{"s":"0.5","x":1639,"y":5.12},{"s":"0.5","x":1666,"y":5.39},{"s":"0.5","x":1690,"y":5.28},{"s":"0.5","x":1711,"y":5.62},{"s":"0.5","x":1735,"y":5.05},{"s":"0.5","x":1769,"y":4.47},{"s":"0.5","x":1803,"y":3.78},{"s":"0.5","x":1837,"y":3.01},{"s":"0.5","x":1871,"y":2.48},{"s":"0.5","x":1906,"y":2.06},{"s":"0.5","x":1957,"y":1.71},{"s":"0.5","x":2008,"y":1.48},{"s":"0.5","x":2053,"y":1.52},{"s":"0.5","x":2111,"y":1.25},{"s":"0.5","x":2190,"y":1.1},{"s":"0.5","x":2248,"y":0.98},{"s":"0.5","x":2299,"y":1.02},{"s":"0.5","x":2361,"y":0.93},{"s":"0.5","x":2419,"y":1.06},{"s":"0.5","x":2487,"y":1.17},{"s":"0.5","x":2556,"y":1.02},{"s":"0.5","x":2624,"y":1.25},{"s":"0.5","x":2692,"y":1.17},{"s":"0.5","x":2761,"y":1.06},{"s":"0.5","x":2829,"y":0.87},{"s":"0.5","x":2898,"y":0.98},{"s":"0.5","x":2966,"y":1.17},{"s":"0.5","x":3034,"y":1.1},{"s":"0.5","x":3103,"y":1.25},{"s":"0.5","x":3189,"y":1.1},{"s":"0.5","x":3240,"y":0.71},{"s":"0.5","x":3301,"y":0.77},{"s":"0.5","x":3394,"y":0.94},{"s":"0.5","x":3462,"y":1.02},{"s":"0.5","x":3513,"y":1.06},{"s":"0.5","x":3582,"y":1.17},{"s":"0.5","x":3650,"y":0.94},{"s":"0.5","x":3719,"y":0.79},{"s":"0.5","x":3777,"y":0.64},{"s":"0.5","x":3856,"y":0.94},{"s":"0.5","x":3941,"y":1.06},{"s":"0.5","x":4010,"y":1.25},{"s":"0.5","x":4044,"y":1.52},{"s":"0.5","x":4078,"y":1.6},{"s":"0.5","x":4112,"y":1.75},{"s":"0.5","x":4146,"y":1.39},{"s":"0.5","x":4181,"y":1.48},
{"s":"0.6","x":315,"y":0.56},{"s":"0.6","x":342,"y":1.83},{"s":"0.6","x":383,"y":1.79},{"s":"0.6","x":417,"y":1.71},{"s":"0.6","x":458,"y":1.83},{"s":"0.6","x":486,"y":2.06},{"s":"0.6","x":513,"y":1.56},{"s":"0.6","x":547,"y":1.98},{"s":"0.6","x":616,"y":1.88},{"s":"0.6","x":657,"y":2.13},{"s":"0.6","x":708,"y":2.02},{"s":"0.6","x":760,"y":2.13},{"s":"0.6","x":794,"y":2.09},{"s":"0.6","x":862,"y":2.21},{"s":"0.6","x":913,"y":2.21},{"s":"0.6","x":958,"y":2.29},{"s":"0.6","x":1016,"y":2.48},{"s":"0.6","x":1067,"y":2.63},{"s":"0.6","x":1129,"y":2.65},{"s":"0.6","x":1187,"y":2.75},{"s":"0.6","x":1238,"y":3.09},{"s":"0.6","x":1290,"y":3.47},{"s":"0.6","x":1324,"y":3.84},{"s":"0.6","x":1375,"y":4.39},{"s":"0.6","x":1410,"y":5.28},{"s":"0.6","x":1444,"y":5.39},{"s":"0.6","x":1471,"y":6.08},{"s":"0.6","x":1495,"y":6.69},{"s":"0.6","x":1512,"y":7.06},{"s":"0.6","x":1540,"y":7.69},{"s":"0.6","x":1563,"y":7.92},{"s":"0.6","x":1581,"y":7.96},{"s":"0.6","x":1615,"y":7.81},{"s":"0.6","x":1649,"y":7.46},{"s":"0.6","x":1676,"y":7.0},{"s":"0.6","x":1700,"y":6.54},{"s":"0.6","x":1735,"y":5.77},{"s":"0.6","x":1769,"y":4.78},{"s":"0.6","x":1803,"y":3.93},{"s":"0.6","x":1861,"y":3.13},{"s":"0.6","x":1906,"y":2.63},{"s":"0.6","x":1957,"y":2.25},{"s":"0.6","x":2001,"y":2.06},{"s":"0.6","x":2043,"y":1.71},{"s":"0.6","x":2094,"y":1.71},{"s":"0.6","x":2155,"y":1.57},{"s":"0.6","x":2214,"y":1.33},{"s":"0.6","x":2265,"y":1.06},{"s":"0.6","x":2309,"y":1.02},{"s":"0.6","x":2368,"y":0.94},{"s":"0.6","x":2419,"y":1.1},{"s":"0.6","x":2463,"y":1.19},{"s":"0.6","x":2521,"y":0.98},{"s":"0.6","x":2573,"y":1.25},{"s":"0.6","x":2624,"y":1.1},{"s":"0.6","x":2675,"y":0.87},{"s":"0.6","x":2744,"y":1.11},{"s":"0.6","x":2812,"y":0.98},{"s":"0.6","x":2881,"y":1.06},{"s":"0.6","x":2915,"y":1.4},{"s":"0.6","x":2966,"y":0.94},{"s":"0.6","x":3052,"y":1.1},{"s":"0.6","x":3120,"y":1.13},{"s":"0.6","x":3223,"y":1.0},{"s":"0.6","x":3325,"y":0.98},{"s":"0.6","x":3421,"y":0.98},{"s":"0.6","x":3496,"y":1.25},{"s":"0.6","x":3565,"y":1.25},{"s":"0.6","x":3633,"y":1.17},{"s":"0.6","x":3685,"y":1.13},{"s":"0.6","x":3736,"y":0.87},{"s":"0.6","x":3804,"y":1.25},{"s":"0.6","x":3873,"y":1.5},{"s":"0.6","x":3958,"y":1.63},{"s":"0.6","x":4037,"y":1.67},{"s":"0.6","x":4085,"y":1.83},{"s":"0.6","x":4129,"y":2.15},{"s":"0.6","x":4153,"y":2.19},{"s":"0.6","x":4181,"y":2.21}
],
"dm": [
{"s":"0.1","x":356,"y":0.79},{"s":"0.1","x":434,"y":1.34},{"s":"0.1","x":612,"y":1.1},{"s":"0.1","x":787,"y":1.33},{"s":"0.1","x":948,"y":1.23},{"s":"0.1","x":1129,"y":1.1},{"s":"0.1","x":1348,"y":1.37},{"s":"0.1","x":1529,"y":1.9},{"s":"0.1","x":1690,"y":1.67},{"s":"0.1","x":1861,"y":1.21},{"s":"0.1","x":2018,"y":0.81},{"s":"0.1","x":2145,"y":1.0},{"s":"0.1","x":2309,"y":0.75},{"s":"0.1","x":2470,"y":1.0},{"s":"0.1","x":2727,"y":1.29},{"s":"0.1","x":2881,"y":0.94},{"s":"0.1","x":3017,"y":1.33},{"s":"0.1","x":3240,"y":1.1},{"s":"0.1","x":3455,"y":0.81},{"s":"0.1","x":3712,"y":0.79},{"s":"0.1","x":3890,"y":0.77},{"s":"0.1","x":4037,"y":0.79},{"s":"0.1","x":4112,"y":1.08},
{"s":"0.2","x":400,"y":0.94},{"s":"0.2","x":445,"y":1.16},{"s":"0.2","x":606,"y":1.13},{"s":"0.2","x":787,"y":1.06},{"s":"0.2","x":948,"y":0.75},{"s":"0.2","x":1129,"y":1.06},{"s":"0.2","x":1341,"y":1.13},{"s":"0.2","x":1529,"y":1.57},{"s":"0.2","x":1711,"y":2.09},{"s":"0.2","x":1871,"y":2.54},{"s":"0.2","x":2008,"y":1.96},{"s":"0.2","x":2155,"y":1.62},{"s":"0.2","x":2326,"y":1.4},{"s":"0.2","x":2463,"y":1.33},{"s":"0.2","x":2624,"y":1.31},{"s":"0.2","x":2761,"y":1.1},{"s":"0.2","x":3017,"y":1.27},{"s":"0.2","x":3103,"y":1.25},{"s":"0.2","x":3274,"y":1.13},{"s":"0.2","x":3445,"y":0.96},{"s":"0.2","x":3695,"y":0.83},{"s":"0.2","x":3941,"y":1.02},{"s":"0.2","x":4146,"y":1.42},
{"s":"0.3","x":298,"y":0.64},{"s":"0.3","x":458,"y":1.54},{"s":"0.3","x":616,"y":1.31},{"s":"0.3","x":821,"y":1.33},{"s":"0.3","x":992,"y":1.44},{"s":"0.3","x":1170,"y":1.34},{"s":"0.3","x":1375,"y":1.57},{"s":"0.3","x":1529,"y":2.13},{"s":"0.3","x":1711,"y":2.21},{"s":"0.3","x":1871,"y":1.73},{"s":"0.3","x":2018,"y":1.16},{"s":"0.3","x":2196,"y":1.06},{"s":"0.3","x":2402,"y":1.1},{"s":"0.3","x":2658,"y":1.1},{"s":"0.3","x":2915,"y":1.17},{"s":"0.3","x":3000,"y":1.31},{"s":"0.3","x":3240,"y":1.13},{"s":"0.3","x":3513,"y":0.9},{"s":"0.3","x":3719,"y":0.98},{"s":"0.3","x":3941,"y":0.98},{"s":"0.3","x":4146,"y":1.37},
{"s":"0.4","x":298,"y":1.21},{"s":"0.4","x":452,"y":1.5},{"s":"0.4","x":616,"y":1.52},{"s":"0.4","x":794,"y":1.54},{"s":"0.4","x":965,"y":1.62},{"s":"0.4","x":1129,"y":1.57},{"s":"0.4","x":1375,"y":2.02},{"s":"0.4","x":1539,"y":3.44},{"s":"0.4","x":1711,"y":3.18},{"s":"0.4","x":1871,"y":1.73},{"s":"0.4","x":2018,"y":1.33},{"s":"0.4","x":2179,"y":1.33},{"s":"0.4","x":2343,"y":1.3},{"s":"0.4","x":2504,"y":1.23},{"s":"0.4","x":2778,"y":1.29},{"s":"0.4","x":2983,"y":1.1},{"s":"0.4","x":3189,"y":1.21},{"s":"0.4","x":3421,"y":0.94},{"s":"0.4","x":3702,"y":0.92},{"s":"0.4","x":3924,"y":1.17},{"s":"0.4","x":4129,"y":1.71},
{"s":"0.5","x":308,"y":1.29},{"s":"0.5","x":458,"y":1.62},{"s":"0.5","x":616,"y":1.77},{"s":"0.5","x":811,"y":1.75},{"s":"0.5","x":982,"y":1.77},{"s":"0.5","x":1163,"y":1.96},{"s":"0.5","x":1375,"y":2.8},{"s":"0.5","x":1553,"y":4.93},{"s":"0.5","x":1735,"y":5.05},{"s":"0.5","x":1906,"y":2.06},{"s":"0.5","x":2053,"y":1.52},{"s":"0.5","x":2190,"y":1.1},{"s":"0.5","x":2361,"y":0.93},{"s":"0.5","x":2487,"y":1.17},{"s":"0.5","x":2692,"y":1.17},{"s":"0.5","x":2898,"y":0.98},{"s":"0.5","x":3103,"y":1.25},{"s":"0.5","x":3301,"y":0.77},{"s":"0.5","x":3513,"y":1.06},{"s":"0.5","x":3777,"y":0.64},{"s":"0.5","x":3941,"y":1.06},{"s":"0.5","x":4078,"y":1.6},{"s":"0.5","x":4146,"y":1.39},
{"s":"0.6","x":315,"y":0.56},{"s":"0.6","x":458,"y":1.83},{"s":"0.6","x":616,"y":1.88},{"s":"0.6","x":794,"y":2.09},{"s":"0.6","x":958,"y":2.29},{"s":"0.6","x":1129,"y":2.65},{"s":"0.6","x":1324,"y":3.84},{"s":"0.6","x":1512,"y":7.06},{"s":"0.6","x":1676,"y":7.0},{"s":"0.6","x":1861,"y":3.13},{"s":"0.6","x":2001,"y":2.06},{"s":"0.6","x":2155,"y":1.57},{"s":"0.6","x":2309,"y":1.02},{"s":"0.6","x":2463,"y":1.19},{"s":"0.6","x":2624,"y":1.1},{"s":"0.6","x":2744,"y":1.11},{"s":"0.6","x":2881,"y":1.06},{"s":"0.6","x":3052,"y":1.1},{"s":"0.6","x":3223,"y":1.0},{"s":"0.6","x":3421,"y":0.98},{"s":"0.6","x":3685,"y":1.13},{"s":"0.6","x":3873,"y":1.5},{"s":"0.6","x":4037,"y":1.67},{"s":"0.6","x":4129,"y":2.15},{"s":"0.6","x":4153,"y":2.19}
]
},
"concat": [
{
 "width": 1296, "height": 1044,
 "title": {"text": "(a) 测点1"},
 "layer": [
  {"data": {"name": "a"}, "mark": {"type": "line", "strokeWidth": 4, "strokeJoin": "round"},
   "encoding": {
    "x": {"field": "x", "type": "quantitative", "title": "转速/(r/min)", "scale": {"domain": [0, 4500], "nice": false}, "axis": {"values": [0,500,1000,1500,2000,2500,3000,3500,4000], "labelExpr": "datum.value % 1000 === 0 ? '' + datum.value : ''"}},
    "y": {"field": "y", "type": "quantitative", "title": "位移幅值/μm", "scale": {"domain": [0, 7.5], "nice": false}, "axis": {"values": [0.5,1,1.5,2,2.5,3,3.5,4,4.5,5,5.5,6,6.5,7], "labelExpr": "datum.value % 1 === 0 ? '' + datum.value : ''"}},
    "color": {"field": "s", "type": "nominal", "scale": {"domain": ["0.1","0.2","0.3","0.4","0.5","0.6"], "range": ["#4d4d4d","#f04141","#1a6fdf","#37ad6b","#b177de","#cc9900"]}, "legend": null}
   }},
  {"data": {"name": "am"}, "mark": {"type": "point", "filled": true, "opacity": 1, "size": 625, "strokeWidth": 0},
   "encoding": {
    "x": {"field": "x", "type": "quantitative", "title": "转速/(r/min)"},
    "y": {"field": "y", "type": "quantitative", "title": "位移幅值/μm"},
    "color": {"field": "s", "type": "nominal", "scale": {"domain": ["0.1","0.2","0.3","0.4","0.5","0.6"], "range": ["#4d4d4d","#f04141","#1a6fdf","#37ad6b","#b177de","#cc9900"]}, "legend": null},
    "shape": {"field": "s", "type": "nominal", "scale": {"domain": ["0.1","0.2","0.3","0.4","0.5","0.6"], "range": ["M-1,-1H1V1H-1Z","M-1.12,0A1.12,1.12,0,1,1,1.12,0A1.12,1.12,0,1,1,-1.12,0Z","M0,-1.45L1.28,0.75L-1.28,0.75Z","M0,1.5L-1.28,-0.8L1.28,-0.8Z","M0,-1.36L1.28,0L0,1.36L-1.28,0Z","M-1.5,0L0.8,-1.33L0.8,1.33Z"]}, "legend": null}
   }},
  {"data": {"name": "am"}, "transform": [{"filter": "false"}], "mark": {"type": "point", "filled": true, "opacity": 1, "size": 625, "strokeWidth": 0},
   "encoding": {
    "x": {"field": "x", "type": "quantitative", "title": "转速/(r/min)"},
    "y": {"field": "y", "type": "quantitative", "title": "位移幅值/μm"},
    "color": {"field": "s", "type": "nominal", "scale": {"domain": ["0.1","0.2","0.3","0.4","0.5","0.6"], "range": ["#4d4d4d","#f04141","#1a6fdf","#37ad6b","#b177de","#cc9900"]}, "legend": {"title": null, "orient": "none", "legendX": 956, "legendY": 53, "labelExpr": "'ᾱ=' + datum.label"}},
    "shape": {"field": "s", "type": "nominal", "scale": {"domain": ["0.1","0.2","0.3","0.4","0.5","0.6"], "range": ["M-4.9,-0.16H4.8V0.16H-4.9Z M-1,-1H1V1H-1Z","M-4.9,-0.16H4.8V0.16H-4.9Z M-1.12,0A1.12,1.12,0,1,1,1.12,0A1.12,1.12,0,1,1,-1.12,0Z","M-4.9,-0.16H4.8V0.16H-4.9Z M0,-1.45L1.28,0.75L-1.28,0.75Z","M-4.9,-0.16H4.8V0.16H-4.9Z M0,1.5L-1.28,-0.8L1.28,-0.8Z","M-4.9,-0.16H4.8V0.16H-4.9Z M0,-1.36L1.28,0L0,1.36L-1.28,0Z","M-4.9,-0.16H4.8V0.16H-4.9Z M-1.5,0L0.8,-1.33L0.8,1.33Z"]}, "legend": {"title": null, "orient": "none", "legendX": 956, "legendY": 53, "labelExpr": "'ᾱ=' + datum.label"}}
   }}
 ],
 "resolve": {"scale": {"color": "independent", "shape": "independent"}}
},
{
 "width": 1296, "height": 1044,
 "title": {"text": "(b) 测点2"},
 "layer": [
  {"data": {"name": "b"}, "mark": {"type": "line", "strokeWidth": 4, "strokeJoin": "round"},
   "encoding": {
    "x": {"field": "x", "type": "quantitative", "title": "转速/(r/min)", "scale": {"domain": [0, 4500], "nice": false}, "axis": {"values": [0,500,1000,1500,2000,2500,3000,3500,4000], "labelExpr": "datum.value % 1000 === 0 ? '' + datum.value : ''"}},
    "y": {"field": "y", "type": "quantitative", "title": "位移幅值/μm", "scale": {"domain": [0, 13], "nice": false}, "axis": {"values": [1,2,3,4,5,6,7,8,9,10,11,12], "titlePadding": 43, "labelExpr": "datum.value % 2 === 0 ? '' + datum.value : ''"}},
    "color": {"field": "s", "type": "nominal", "scale": {"domain": ["0.1","0.2","0.3","0.4","0.5","0.6"], "range": ["#4d4d4d","#f04141","#1a6fdf","#37ad6b","#b177de","#cc9900"]}, "legend": null}
   }},
  {"data": {"name": "bm"}, "mark": {"type": "point", "filled": true, "opacity": 1, "size": 625, "strokeWidth": 0},
   "encoding": {
    "x": {"field": "x", "type": "quantitative", "title": "转速/(r/min)"},
    "y": {"field": "y", "type": "quantitative", "title": "位移幅值/μm"},
    "color": {"field": "s", "type": "nominal", "scale": {"domain": ["0.1","0.2","0.3","0.4","0.5","0.6"], "range": ["#4d4d4d","#f04141","#1a6fdf","#37ad6b","#b177de","#cc9900"]}, "legend": null},
    "shape": {"field": "s", "type": "nominal", "scale": {"domain": ["0.1","0.2","0.3","0.4","0.5","0.6"], "range": ["M-1,-1H1V1H-1Z","M-1.12,0A1.12,1.12,0,1,1,1.12,0A1.12,1.12,0,1,1,-1.12,0Z","M0,-1.45L1.28,0.75L-1.28,0.75Z","M0,1.5L-1.28,-0.8L1.28,-0.8Z","M0,-1.36L1.28,0L0,1.36L-1.28,0Z","M-1.5,0L0.8,-1.33L0.8,1.33Z"]}, "legend": null}
   }},
  {"data": {"name": "bm"}, "transform": [{"filter": "false"}], "mark": {"type": "point", "filled": true, "opacity": 1, "size": 625, "strokeWidth": 0},
   "encoding": {
    "x": {"field": "x", "type": "quantitative", "title": "转速/(r/min)"},
    "y": {"field": "y", "type": "quantitative", "title": "位移幅值/μm"},
    "color": {"field": "s", "type": "nominal", "scale": {"domain": ["0.1","0.2","0.3","0.4","0.5","0.6"], "range": ["#4d4d4d","#f04141","#1a6fdf","#37ad6b","#b177de","#cc9900"]}, "legend": {"title": null, "orient": "none", "legendX": 956, "legendY": 53, "labelExpr": "'ᾱ=' + datum.label"}},
    "shape": {"field": "s", "type": "nominal", "scale": {"domain": ["0.1","0.2","0.3","0.4","0.5","0.6"], "range": ["M-4.9,-0.16H4.8V0.16H-4.9Z M-1,-1H1V1H-1Z","M-4.9,-0.16H4.8V0.16H-4.9Z M-1.12,0A1.12,1.12,0,1,1,1.12,0A1.12,1.12,0,1,1,-1.12,0Z","M-4.9,-0.16H4.8V0.16H-4.9Z M0,-1.45L1.28,0.75L-1.28,0.75Z","M-4.9,-0.16H4.8V0.16H-4.9Z M0,1.5L-1.28,-0.8L1.28,-0.8Z","M-4.9,-0.16H4.8V0.16H-4.9Z M0,-1.36L1.28,0L0,1.36L-1.28,0Z","M-4.9,-0.16H4.8V0.16H-4.9Z M-1.5,0L0.8,-1.33L0.8,1.33Z"]}, "legend": {"title": null, "orient": "none", "legendX": 956, "legendY": 53, "labelExpr": "'ᾱ=' + datum.label"}}
   }}
 ],
 "resolve": {"scale": {"color": "independent", "shape": "independent"}}
},
{
 "width": 1296, "height": 1044,
 "title": {"text": "(c) 测点3"},
 "layer": [
  {"data": {"name": "c"}, "mark": {"type": "line", "strokeWidth": 4, "strokeJoin": "round"},
   "encoding": {
    "x": {"field": "x", "type": "quantitative", "title": "转速/(r/min)", "scale": {"domain": [0, 4500], "nice": false}, "axis": {"values": [0,500,1000,1500,2000,2500,3000,3500,4000], "labelExpr": "datum.value % 1000 === 0 ? '' + datum.value : ''"}},
    "y": {"field": "y", "type": "quantitative", "title": "位移幅值/μm", "scale": {"domain": [0, 5.5], "nice": false}, "axis": {"values": [0.5,1,1.5,2,2.5,3,3.5,4,4.5,5], "labelExpr": "datum.value % 1 === 0 ? '' + datum.value : ''"}},
    "color": {"field": "s", "type": "nominal", "scale": {"domain": ["0.1","0.2","0.3","0.4","0.5","0.6"], "range": ["#4d4d4d","#f04141","#1a6fdf","#37ad6b","#b177de","#cc9900"]}, "legend": null}
   }},
  {"data": {"name": "cm"}, "mark": {"type": "point", "filled": true, "opacity": 1, "size": 625, "strokeWidth": 0},
   "encoding": {
    "x": {"field": "x", "type": "quantitative", "title": "转速/(r/min)"},
    "y": {"field": "y", "type": "quantitative", "title": "位移幅值/μm"},
    "color": {"field": "s", "type": "nominal", "scale": {"domain": ["0.1","0.2","0.3","0.4","0.5","0.6"], "range": ["#4d4d4d","#f04141","#1a6fdf","#37ad6b","#b177de","#cc9900"]}, "legend": null},
    "shape": {"field": "s", "type": "nominal", "scale": {"domain": ["0.1","0.2","0.3","0.4","0.5","0.6"], "range": ["M-1,-1H1V1H-1Z","M-1.12,0A1.12,1.12,0,1,1,1.12,0A1.12,1.12,0,1,1,-1.12,0Z","M0,-1.45L1.28,0.75L-1.28,0.75Z","M0,1.5L-1.28,-0.8L1.28,-0.8Z","M0,-1.36L1.28,0L0,1.36L-1.28,0Z","M-1.5,0L0.8,-1.33L0.8,1.33Z"]}, "legend": null}
   }},
  {"data": {"name": "cm"}, "transform": [{"filter": "false"}], "mark": {"type": "point", "filled": true, "opacity": 1, "size": 625, "strokeWidth": 0},
   "encoding": {
    "x": {"field": "x", "type": "quantitative", "title": "转速/(r/min)"},
    "y": {"field": "y", "type": "quantitative", "title": "位移幅值/μm"},
    "color": {"field": "s", "type": "nominal", "scale": {"domain": ["0.1","0.2","0.3","0.4","0.5","0.6"], "range": ["#4d4d4d","#f04141","#1a6fdf","#37ad6b","#b177de","#cc9900"]}, "legend": {"title": null, "orient": "none", "legendX": 956, "legendY": 60, "labelExpr": "'ᾱ=' + datum.label"}},
    "shape": {"field": "s", "type": "nominal", "scale": {"domain": ["0.1","0.2","0.3","0.4","0.5","0.6"], "range": ["M-4.9,-0.16H4.8V0.16H-4.9Z M-1,-1H1V1H-1Z","M-4.9,-0.16H4.8V0.16H-4.9Z M-1.12,0A1.12,1.12,0,1,1,1.12,0A1.12,1.12,0,1,1,-1.12,0Z","M-4.9,-0.16H4.8V0.16H-4.9Z M0,-1.45L1.28,0.75L-1.28,0.75Z","M-4.9,-0.16H4.8V0.16H-4.9Z M0,1.5L-1.28,-0.8L1.28,-0.8Z","M-4.9,-0.16H4.8V0.16H-4.9Z M0,-1.36L1.28,0L0,1.36L-1.28,0Z","M-4.9,-0.16H4.8V0.16H-4.9Z M-1.5,0L0.8,-1.33L0.8,1.33Z"]}, "legend": {"title": null, "orient": "none", "legendX": 956, "legendY": 60, "labelExpr": "'ᾱ=' + datum.label"}}
   }}
 ],
 "resolve": {"scale": {"color": "independent", "shape": "independent"}}
},
{
 "width": 1296, "height": 1044,
 "title": {"text": "(d) 测点4"},
 "layer": [
  {"data": {"name": "d"}, "mark": {"type": "line", "strokeWidth": 4, "strokeJoin": "round"},
   "encoding": {
    "x": {"field": "x", "type": "quantitative", "title": "转速/(r/min)", "scale": {"domain": [0, 4500], "nice": false}, "axis": {"values": [0,500,1000,1500,2000,2500,3000,3500,4000], "labelExpr": "datum.value % 1000 === 0 ? '' + datum.value : ''"}},
    "y": {"field": "y", "type": "quantitative", "title": "位移幅值/μm", "scale": {"domain": [0, 9], "nice": false}, "axis": {"values": [0.5,1,1.5,2,2.5,3,3.5,4,4.5,5,5.5,6,6.5,7,7.5,8,8.5,9], "labelExpr": "datum.value % 1 === 0 ? '' + datum.value : ''"}},
    "color": {"field": "s", "type": "nominal", "scale": {"domain": ["0.1","0.2","0.3","0.4","0.5","0.6"], "range": ["#4d4d4d","#f04141","#1a6fdf","#37ad6b","#b177de","#cc9900"]}, "legend": null}
   }},
  {"data": {"name": "dm"}, "mark": {"type": "point", "filled": true, "opacity": 1, "size": 625, "strokeWidth": 0},
   "encoding": {
    "x": {"field": "x", "type": "quantitative", "title": "转速/(r/min)"},
    "y": {"field": "y", "type": "quantitative", "title": "位移幅值/μm"},
    "color": {"field": "s", "type": "nominal", "scale": {"domain": ["0.1","0.2","0.3","0.4","0.5","0.6"], "range": ["#4d4d4d","#f04141","#1a6fdf","#37ad6b","#b177de","#cc9900"]}, "legend": null},
    "shape": {"field": "s", "type": "nominal", "scale": {"domain": ["0.1","0.2","0.3","0.4","0.5","0.6"], "range": ["M-1,-1H1V1H-1Z","M-1.12,0A1.12,1.12,0,1,1,1.12,0A1.12,1.12,0,1,1,-1.12,0Z","M0,-1.45L1.28,0.75L-1.28,0.75Z","M0,1.5L-1.28,-0.8L1.28,-0.8Z","M0,-1.36L1.28,0L0,1.36L-1.28,0Z","M-1.5,0L0.8,-1.33L0.8,1.33Z"]}, "legend": null}
   }},
  {"data": {"name": "dm"}, "transform": [{"filter": "false"}], "mark": {"type": "point", "filled": true, "opacity": 1, "size": 625, "strokeWidth": 0},
   "encoding": {
    "x": {"field": "x", "type": "quantitative", "title": "转速/(r/min)"},
    "y": {"field": "y", "type": "quantitative", "title": "位移幅值/μm"},
    "color": {"field": "s", "type": "nominal", "scale": {"domain": ["0.1","0.2","0.3","0.4","0.5","0.6"], "range": ["#4d4d4d","#f04141","#1a6fdf","#37ad6b","#b177de","#cc9900"]}, "legend": {"title": null, "orient": "none", "legendX": 951, "legendY": 60, "labelExpr": "'ᾱ=' + datum.label"}},
    "shape": {"field": "s", "type": "nominal", "scale": {"domain": ["0.1","0.2","0.3","0.4","0.5","0.6"], "range": ["M-4.9,-0.16H4.8V0.16H-4.9Z M-1,-1H1V1H-1Z","M-4.9,-0.16H4.8V0.16H-4.9Z M-1.12,0A1.12,1.12,0,1,1,1.12,0A1.12,1.12,0,1,1,-1.12,0Z","M-4.9,-0.16H4.8V0.16H-4.9Z M0,-1.45L1.28,0.75L-1.28,0.75Z","M-4.9,-0.16H4.8V0.16H-4.9Z M0,1.5L-1.28,-0.8L1.28,-0.8Z","M-4.9,-0.16H4.8V0.16H-4.9Z M0,-1.36L1.28,0L0,1.36L-1.28,0Z","M-4.9,-0.16H4.8V0.16H-4.9Z M-1.5,0L0.8,-1.33L0.8,1.33Z"]}, "legend": {"title": null, "orient": "none", "legendX": 951, "legendY": 60, "labelExpr": "'ᾱ=' + datum.label"}}
   }}
 ],
 "resolve": {"scale": {"color": "independent", "shape": "independent"}}
}
]
}
